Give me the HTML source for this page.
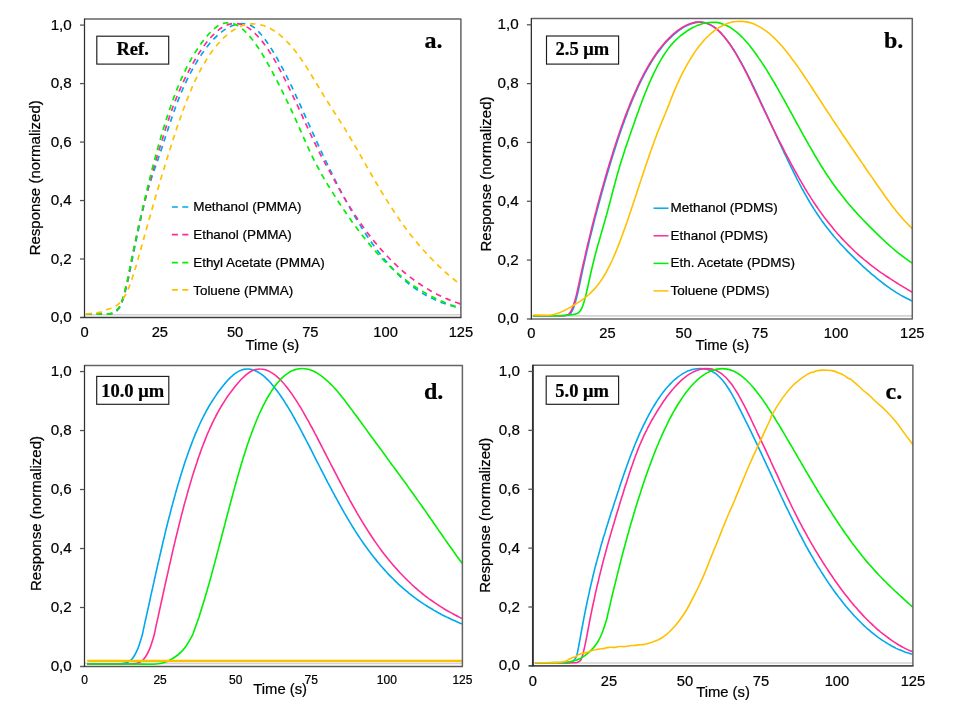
<!DOCTYPE html>
<html><head><meta charset="utf-8"><title>Response curves</title>
<style>html,body{margin:0;padding:0;background:#fff;overflow:hidden;}svg{display:block;filter:blur(0.35px);}text{font-family:"Liberation Sans",sans-serif;fill:#000;stroke:#000;stroke-width:0.22px;}.s{font-family:"Liberation Serif",serif;font-weight:bold;}.c{fill:none;stroke-width:1.6;stroke-linejoin:round;stroke-linecap:butt;}</style></head><body>
<svg width="955" height="713" viewBox="0 0 955 713">
<rect x="0" y="0" width="955" height="713" fill="#fff"/>
<g>
<line x1="84.5" y1="314.8" x2="460.9" y2="314.8" stroke="#d3d3d3" stroke-width="1.6"/>
<clipPath id="cpa"><rect x="84.5" y="18.9" width="377.0" height="298.6"/></clipPath>
<g clip-path="url(#cpa)">
<path class="c" d="M86.0,314.0C88.3,314.0 95.7,314.0 100.0,313.9C104.3,313.8 108.5,314.5 111.6,313.6C114.7,312.7 116.8,311.2 118.8,308.6C120.8,306.0 121.9,302.8 123.5,297.8C125.1,292.8 127.3,282.8 128.3,278.8C129.3,274.8 129.0,275.5 129.3,273.9C129.7,272.2 130.0,270.6 130.3,269.0C130.7,267.3 131.0,265.7 131.3,264.0C131.7,262.4 132.0,260.8 132.3,259.1C132.7,257.5 133.0,255.8 133.3,254.2C133.7,252.6 134.0,250.9 134.3,249.3C134.7,247.6 135.0,246.0 135.3,244.4C135.7,242.8 136.0,241.1 136.3,239.5C136.7,237.9 137.0,236.3 137.4,234.6C137.7,233.0 138.0,231.4 138.4,229.8C138.7,228.1 139.1,226.5 139.4,224.9C139.8,223.3 140.1,221.7 140.5,220.1C140.8,218.5 141.2,216.9 141.5,215.3C141.9,213.6 142.3,212.0 142.6,210.4C143.0,208.8 143.4,207.2 143.8,205.7C144.1,204.1 144.5,202.5 144.9,200.9C145.3,199.3 145.7,197.7 146.1,196.2C146.6,194.6 147.0,193.0 147.4,191.5C147.9,189.9 148.3,188.4 148.8,186.8C149.2,185.2 149.7,183.7 150.2,182.1C150.7,180.6 151.2,179.0 151.7,177.5C152.2,175.9 152.7,174.4 153.3,172.8C153.8,171.3 154.3,169.7 154.9,168.2C155.4,166.6 156.0,165.0 156.5,163.5C157.1,161.9 157.6,160.3 158.2,158.7C158.7,157.1 159.3,155.5 159.8,153.9C160.4,152.3 160.9,150.8 161.4,149.2C162.0,147.6 162.5,146.0 163.0,144.4C163.5,142.8 164.1,141.2 164.6,139.6C165.1,138.0 165.6,136.5 166.1,134.9C166.7,133.3 167.2,131.7 167.7,130.1C168.2,128.6 168.7,127.0 169.3,125.4C169.8,123.8 170.3,122.3 170.8,120.7C171.4,119.1 171.9,117.6 172.4,116.0C173.0,114.4 173.5,112.9 174.1,111.3C174.6,109.8 175.2,108.2 175.7,106.7C176.3,105.1 176.9,103.6 177.4,102.1C178.0,100.6 178.6,99.0 179.2,97.5C179.8,96.0 180.4,94.5 181.1,93.0C181.7,91.5 182.3,90.0 183.0,88.5C183.7,87.0 184.3,85.5 185.0,84.0C185.7,82.6 186.4,81.1 187.1,79.6C187.8,78.1 188.6,76.7 189.3,75.2C190.1,73.8 190.8,72.3 191.6,70.9C192.4,69.5 193.2,68.0 194.0,66.6C194.8,65.2 195.6,63.8 196.5,62.4C197.3,61.0 198.2,59.6 199.0,58.2C199.9,56.8 200.8,55.5 201.7,54.1C202.6,52.8 203.6,51.5 204.5,50.1C205.5,48.8 206.5,47.5 207.5,46.3C208.5,45.0 209.5,43.7 210.6,42.5C211.6,41.3 212.7,40.1 213.8,38.9C215.0,37.7 216.1,36.6 217.3,35.5C218.5,34.4 219.7,33.4 221.0,32.4C222.3,31.4 223.6,30.4 224.9,29.6C226.3,28.7 227.7,27.9 229.1,27.2C230.6,26.4 232.1,25.8 233.6,25.3C235.1,24.7 236.7,24.3 238.3,24.0C239.9,23.7 241.6,23.5 243.2,23.6C244.9,23.6 246.6,23.8 248.2,24.4C249.9,24.9 251.5,25.8 253.0,26.7C254.5,27.7 255.8,29.0 257.1,30.2C258.4,31.4 259.6,32.7 260.7,34.0C261.9,35.3 262.9,36.7 264.0,38.1C265.0,39.4 266.0,40.8 267.0,42.2C268.0,43.6 268.9,45.0 269.9,46.5C270.8,47.9 271.7,49.3 272.6,50.8C273.5,52.2 274.4,53.7 275.2,55.1C276.1,56.6 276.9,58.0 277.8,59.5C278.6,61.0 279.4,62.5 280.2,64.0C281.0,65.4 281.8,66.9 282.6,68.4C283.4,69.9 284.2,71.4 285.0,72.9C285.7,74.4 286.5,75.9 287.2,77.4C288.0,78.9 288.7,80.4 289.5,81.9C290.2,83.5 290.9,85.0 291.7,86.5C292.4,88.0 293.1,89.5 293.8,91.0C294.5,92.6 295.2,94.1 295.9,95.6C296.6,97.1 297.3,98.7 298.0,100.2C298.7,101.7 299.4,103.2 300.1,104.7C300.8,106.3 301.5,107.8 302.2,109.3C302.9,110.8 303.5,112.4 304.2,113.9C304.9,115.4 305.6,116.9 306.3,118.5C306.9,120.0 307.6,121.5 308.3,123.0C309.0,124.5 309.7,126.0 310.4,127.6C311.0,129.1 311.7,130.6 312.4,132.1C313.1,133.6 313.8,135.1 314.5,136.7C315.2,138.2 315.9,139.7 316.6,141.2C317.2,142.7 317.9,144.2 318.6,145.7C319.3,147.2 320.0,148.7 320.7,150.2C321.4,151.7 322.1,153.2 322.8,154.8C323.5,156.3 324.3,157.8 325.0,159.3C325.7,160.8 326.4,162.3 327.1,163.7C327.8,165.2 328.5,166.7 329.3,168.2C330.0,169.7 330.7,171.2 331.4,172.7C332.2,174.2 332.9,175.7 333.7,177.2C334.4,178.6 335.1,180.1 335.9,181.6C336.6,183.1 337.4,184.6 338.1,186.0C338.9,187.5 339.7,189.0 340.4,190.4C341.2,191.9 342.0,193.4 342.7,194.8C343.5,196.3 344.3,197.8 345.1,199.2C345.9,200.7 346.7,202.1 347.5,203.6C348.3,205.0 349.1,206.4 349.9,207.9C350.7,209.3 351.5,210.8 352.3,212.2C353.2,213.6 354.0,215.0 354.9,216.5C355.7,217.9 356.5,219.3 357.4,220.7C358.3,222.1 359.1,223.5 360.0,224.9C360.9,226.3 361.7,227.7 362.6,229.1C363.5,230.5 364.4,231.9 365.3,233.3C366.2,234.7 367.1,236.0 368.1,237.4C369.0,238.8 369.9,240.1 370.9,241.5C371.8,242.8 372.8,244.2 373.7,245.5C374.7,246.9 375.7,248.2 376.7,249.5C377.6,250.8 378.6,252.1 379.7,253.4C380.7,254.7 381.7,256.0 382.7,257.3C383.8,258.6 384.8,259.8 385.9,261.1C386.9,262.4 388.0,263.6 389.1,264.8C390.2,266.1 391.3,267.3 392.4,268.5C393.5,269.7 394.7,270.9 395.8,272.0C397.0,273.2 398.1,274.4 399.3,275.5C400.5,276.6 401.7,277.7 403.0,278.8C404.2,279.9 405.4,281.0 406.7,282.0C408.0,283.1 409.2,284.1 410.5,285.1C411.8,286.1 413.2,287.1 414.5,288.0C415.8,289.0 417.2,289.9 418.6,290.8C420.0,291.7 421.4,292.6 422.8,293.4C424.2,294.3 425.6,295.1 427.1,295.9C428.5,296.7 430.0,297.4 431.5,298.1C432.9,298.9 434.4,299.6 435.9,300.2C437.5,300.9 439.0,301.5 440.5,302.1C442.1,302.7 443.6,303.3 445.2,303.8C446.7,304.4 448.3,304.9 449.9,305.4C451.5,305.9 453.1,306.3 454.7,306.7C456.3,307.2 458.5,307.7 459.5,308.0C460.6,308.2 460.8,308.2 461.0,308.3" stroke="#00A8EC" stroke-dasharray="5.6 4.8" style="stroke-width:1.7"/>
<path class="c" d="M86.0,314.0C88.3,314.0 95.8,314.0 100.0,313.9C104.2,313.8 108.2,314.5 111.3,313.6C114.4,312.7 116.5,311.2 118.5,308.6C120.5,306.0 121.6,302.8 123.2,297.8C124.8,292.8 127.0,282.9 128.0,278.8C129.0,274.7 128.7,275.2 129.0,273.4C129.3,271.7 129.7,269.9 130.0,268.2C130.3,266.4 130.7,264.7 131.0,263.0C131.3,261.3 131.7,259.6 132.0,257.9C132.3,256.3 132.7,254.6 133.0,253.0C133.3,251.3 133.7,249.7 134.0,248.1C134.3,246.5 134.7,244.9 135.0,243.3C135.4,241.6 135.7,240.0 136.0,238.4C136.4,236.8 136.7,235.2 137.1,233.6C137.5,232.0 137.8,230.3 138.2,228.7C138.5,227.1 138.9,225.5 139.3,223.9C139.6,222.3 140.0,220.7 140.4,219.1C140.8,217.5 141.1,215.9 141.5,214.3C141.9,212.7 142.3,211.1 142.7,209.5C143.1,207.8 143.5,206.2 143.9,204.6C144.3,203.0 144.7,201.4 145.1,199.8C145.5,198.3 145.9,196.7 146.3,195.1C146.7,193.5 147.1,191.9 147.6,190.3C148.0,188.7 148.4,187.1 148.8,185.5C149.3,183.9 149.7,182.3 150.2,180.7C150.6,179.1 151.0,177.5 151.5,175.9C151.9,174.3 152.4,172.8 152.8,171.2C153.3,169.6 153.8,168.0 154.2,166.4C154.7,164.8 155.1,163.2 155.6,161.6C156.1,160.0 156.6,158.4 157.0,156.8C157.5,155.2 158.0,153.6 158.4,152.1C158.9,150.5 159.4,148.9 159.9,147.3C160.3,145.7 160.8,144.1 161.3,142.5C161.8,140.9 162.3,139.4 162.8,137.8C163.3,136.2 163.7,134.6 164.2,133.0C164.7,131.5 165.2,129.9 165.7,128.3C166.2,126.7 166.7,125.2 167.3,123.6C167.8,122.0 168.3,120.5 168.8,118.9C169.3,117.3 169.9,115.8 170.4,114.2C170.9,112.7 171.5,111.1 172.0,109.6C172.6,108.0 173.1,106.5 173.7,105.0C174.3,103.4 174.9,101.9 175.4,100.4C176.0,98.8 176.6,97.3 177.2,95.8C177.9,94.3 178.5,92.8 179.1,91.3C179.8,89.8 180.4,88.3 181.1,86.8C181.8,85.3 182.4,83.8 183.1,82.3C183.8,80.9 184.5,79.4 185.2,77.9C186.0,76.4 186.7,75.0 187.4,73.5C188.2,72.1 189.0,70.6 189.7,69.2C190.5,67.7 191.3,66.3 192.1,64.8C192.9,63.4 193.7,62.0 194.5,60.6C195.3,59.2 196.2,57.7 197.0,56.3C197.9,55.0 198.7,53.6 199.6,52.2C200.5,50.8 201.4,49.5 202.4,48.1C203.3,46.8 204.2,45.5 205.2,44.2C206.2,42.9 207.2,41.6 208.2,40.4C209.2,39.1 210.3,37.9 211.4,36.7C212.5,35.5 213.6,34.4 214.8,33.3C215.9,32.2 217.1,31.1 218.4,30.1C219.6,29.1 220.9,28.2 222.3,27.3C223.7,26.5 225.1,25.8 226.6,25.2C228.1,24.6 229.6,24.1 231.2,23.8C232.8,23.5 234.5,23.4 236.1,23.5C237.8,23.6 239.5,23.9 241.1,24.4C242.7,24.9 244.3,25.7 245.9,26.5C247.4,27.3 248.9,28.3 250.3,29.3C251.7,30.4 253.0,31.5 254.3,32.7C255.5,33.9 256.8,35.1 257.9,36.4C259.1,37.6 260.2,39.0 261.3,40.3C262.4,41.6 263.5,43.0 264.5,44.4C265.5,45.8 266.5,47.2 267.4,48.6C268.4,50.0 269.3,51.4 270.2,52.9C271.1,54.3 272.0,55.8 272.9,57.2C273.8,58.7 274.6,60.2 275.5,61.6C276.3,63.1 277.1,64.6 277.9,66.1C278.7,67.6 279.5,69.0 280.3,70.5C281.1,72.0 281.9,73.5 282.7,75.0C283.4,76.5 284.2,78.0 285.0,79.5C285.7,81.0 286.5,82.5 287.2,84.0C287.9,85.5 288.7,87.1 289.4,88.6C290.1,90.1 290.9,91.6 291.6,93.1C292.3,94.6 293.0,96.1 293.7,97.6C294.4,99.2 295.1,100.7 295.8,102.2C296.6,103.7 297.3,105.2 298.0,106.7C298.7,108.3 299.4,109.8 300.1,111.3C300.8,112.8 301.5,114.3 302.2,115.8C302.9,117.4 303.5,118.9 304.2,120.4C304.9,121.9 305.6,123.4 306.3,124.9C307.0,126.4 307.7,127.9 308.4,129.4C309.1,131.0 309.8,132.5 310.5,134.0C311.2,135.5 311.9,137.0 312.6,138.5C313.4,140.0 314.1,141.5 314.8,143.0C315.5,144.4 316.2,145.9 317.0,147.4C317.7,148.9 318.4,150.4 319.2,151.9C319.9,153.3 320.6,154.8 321.4,156.3C322.2,157.7 322.9,159.2 323.7,160.6C324.5,162.1 325.3,163.5 326.1,165.0C326.9,166.4 327.7,167.9 328.5,169.3C329.3,170.8 330.1,172.3 330.9,173.7C331.7,175.2 332.5,176.7 333.3,178.1C334.1,179.6 334.9,181.1 335.7,182.5C336.5,184.0 337.3,185.4 338.1,186.9C338.9,188.3 339.7,189.8 340.5,191.2C341.3,192.6 342.1,194.1 343.0,195.5C343.8,196.9 344.6,198.4 345.5,199.8C346.3,201.2 347.2,202.6 348.0,204.0C348.9,205.4 349.8,206.8 350.6,208.2C351.5,209.6 352.4,211.0 353.3,212.4C354.2,213.8 355.1,215.2 356.0,216.5C356.9,217.9 357.8,219.3 358.8,220.6C359.7,222.0 360.6,223.4 361.6,224.7C362.5,226.1 363.5,227.4 364.5,228.7C365.4,230.1 366.4,231.4 367.4,232.7C368.4,234.0 369.4,235.3 370.4,236.6C371.4,237.9 372.4,239.2 373.5,240.5C374.5,241.8 375.6,243.1 376.6,244.3C377.7,245.6 378.7,246.9 379.8,248.1C380.9,249.4 382.0,250.6 383.1,251.8C384.2,253.0 385.3,254.2 386.5,255.4C387.6,256.6 388.7,257.8 389.9,259.0C391.0,260.2 392.2,261.3 393.4,262.5C394.6,263.6 395.8,264.8 397.0,265.9C398.2,267.0 399.4,268.1 400.6,269.2C401.9,270.3 403.1,271.4 404.4,272.5C405.6,273.5 406.9,274.6 408.2,275.6C409.5,276.6 410.8,277.6 412.1,278.6C413.4,279.6 414.8,280.6 416.1,281.5C417.5,282.5 418.8,283.4 420.2,284.3C421.6,285.3 423.0,286.2 424.4,287.0C425.8,287.9 427.2,288.8 428.6,289.6C430.0,290.4 431.5,291.3 432.9,292.0C434.4,292.8 435.8,293.6 437.3,294.4C438.8,295.1 440.3,295.8 441.7,296.5C443.2,297.2 444.8,297.9 446.3,298.6C447.8,299.2 449.3,299.9 450.9,300.5C452.4,301.1 453.9,301.7 455.5,302.3C457.1,302.9 459.3,303.6 460.2,303.9C461.1,304.3 460.9,304.2 461.0,304.2" stroke="#FF2C94" stroke-dasharray="5.6 4.8" style="stroke-width:1.7"/>
<path class="c" d="M86.0,314.0C88.3,314.0 95.8,314.0 100.0,313.9C104.2,313.8 108.0,314.5 111.0,313.6C114.0,312.7 116.2,311.2 118.2,308.6C120.2,306.0 121.3,302.8 122.9,297.8C124.5,292.8 126.7,282.8 127.7,278.8C128.7,274.8 128.4,275.4 128.7,273.8C129.0,272.1 129.4,270.4 129.7,268.8C130.0,267.1 130.4,265.5 130.7,263.8C131.0,262.2 131.4,260.6 131.7,258.9C132.0,257.3 132.4,255.7 132.7,254.1C133.0,252.4 133.4,250.8 133.7,249.2C134.1,247.6 134.4,245.9 134.7,244.3C135.1,242.7 135.4,241.1 135.8,239.4C136.1,237.8 136.5,236.2 136.8,234.6C137.2,233.0 137.5,231.3 137.9,229.7C138.2,228.1 138.6,226.5 138.9,224.9C139.3,223.2 139.6,221.6 140.0,220.0C140.4,218.4 140.7,216.8 141.1,215.2C141.5,213.5 141.8,211.9 142.2,210.3C142.6,208.7 142.9,207.1 143.3,205.5C143.7,203.8 144.1,202.2 144.4,200.6C144.8,199.0 145.2,197.4 145.6,195.8C146.0,194.2 146.3,192.6 146.7,190.9C147.1,189.3 147.5,187.7 147.9,186.1C148.3,184.5 148.7,182.9 149.1,181.3C149.5,179.7 149.9,178.1 150.3,176.5C150.7,174.9 151.1,173.3 151.5,171.7C151.9,170.1 152.3,168.5 152.7,166.9C153.1,165.3 153.6,163.7 154.0,162.1C154.4,160.5 154.8,158.9 155.3,157.3C155.7,155.7 156.1,154.1 156.6,152.5C157.0,150.9 157.4,149.3 157.9,147.7C158.3,146.1 158.8,144.5 159.2,142.9C159.7,141.4 160.1,139.8 160.6,138.2C161.0,136.6 161.5,135.0 162.0,133.4C162.5,131.9 162.9,130.3 163.4,128.7C163.9,127.1 164.4,125.5 164.9,124.0C165.4,122.4 165.8,120.8 166.3,119.3C166.9,117.7 167.4,116.1 167.9,114.6C168.4,113.0 168.9,111.4 169.4,109.9C170.0,108.3 170.5,106.8 171.0,105.2C171.6,103.7 172.1,102.1 172.7,100.6C173.2,99.0 173.8,97.5 174.4,96.0C175.0,94.4 175.5,92.9 176.1,91.4C176.7,89.8 177.3,88.3 178.0,86.8C178.6,85.3 179.2,83.8 179.8,82.3C180.5,80.8 181.1,79.3 181.8,77.8C182.5,76.3 183.2,74.8 183.8,73.3C184.5,71.9 185.3,70.4 186.0,68.9C186.7,67.5 187.4,66.0 188.2,64.6C189.0,63.1 189.7,61.7 190.5,60.3C191.3,58.9 192.1,57.4 193.0,56.0C193.8,54.6 194.6,53.3 195.5,51.9C196.4,50.5 197.3,49.1 198.2,47.8C199.1,46.4 200.0,45.1 201.0,43.8C201.9,42.5 202.9,41.2 203.9,39.9C204.9,38.6 205.9,37.3 207.0,36.1C208.0,34.9 209.1,33.6 210.2,32.5C211.3,31.3 212.5,30.2 213.7,29.1C214.9,28.1 216.1,27.1 217.4,26.2C218.7,25.4 220.1,24.6 221.6,24.0C223.0,23.4 224.6,23.0 226.2,22.9C227.8,22.7 229.6,22.8 231.2,23.2C232.8,23.5 234.5,24.1 236.1,24.9C237.7,25.6 239.2,26.6 240.6,27.6C242.0,28.7 243.3,29.8 244.6,31.0C245.9,32.2 247.1,33.4 248.3,34.7C249.4,36.0 250.5,37.3 251.6,38.7C252.7,40.0 253.7,41.4 254.8,42.8C255.8,44.2 256.7,45.6 257.7,47.0C258.7,48.4 259.6,49.8 260.5,51.3C261.4,52.7 262.3,54.1 263.2,55.6C264.0,57.1 264.9,58.5 265.7,60.0C266.6,61.4 267.4,62.9 268.2,64.4C269.1,65.9 269.9,67.3 270.7,68.8C271.5,70.3 272.3,71.8 273.1,73.3C273.8,74.8 274.6,76.2 275.4,77.7C276.2,79.2 276.9,80.7 277.7,82.2C278.5,83.7 279.2,85.2 280.0,86.7C280.7,88.2 281.5,89.7 282.2,91.2C283.0,92.7 283.7,94.2 284.4,95.7C285.2,97.2 285.9,98.7 286.6,100.2C287.4,101.7 288.1,103.2 288.8,104.7C289.5,106.3 290.3,107.8 291.0,109.3C291.7,110.8 292.4,112.3 293.1,113.9C293.8,115.4 294.5,116.9 295.2,118.5C295.9,120.0 296.6,121.5 297.2,123.0C297.9,124.6 298.6,126.1 299.3,127.6C300.0,129.2 300.6,130.7 301.3,132.2C302.0,133.8 302.6,135.3 303.3,136.8C304.0,138.3 304.6,139.8 305.3,141.4C306.0,142.9 306.7,144.4 307.4,145.9C308.0,147.4 308.7,148.9 309.4,150.4C310.1,151.9 310.8,153.4 311.5,154.9C312.2,156.3 312.9,157.8 313.7,159.3C314.4,160.8 315.1,162.2 315.9,163.7C316.6,165.1 317.4,166.6 318.2,168.0C319.0,169.5 319.8,170.9 320.6,172.4C321.4,173.8 322.2,175.2 323.0,176.7C323.8,178.1 324.6,179.5 325.5,180.9C326.3,182.3 327.2,183.7 328.0,185.2C328.9,186.6 329.8,188.0 330.6,189.4C331.5,190.8 332.4,192.2 333.3,193.6C334.2,195.0 335.0,196.4 335.9,197.8C336.8,199.2 337.7,200.6 338.6,202.0C339.5,203.4 340.4,204.8 341.4,206.1C342.3,207.5 343.2,208.9 344.1,210.3C345.1,211.6 346.0,213.0 346.9,214.4C347.9,215.7 348.8,217.1 349.8,218.4C350.7,219.8 351.7,221.1 352.6,222.5C353.6,223.8 354.6,225.2 355.6,226.5C356.5,227.8 357.5,229.1 358.5,230.5C359.5,231.8 360.5,233.1 361.5,234.4C362.6,235.7 363.6,237.0 364.6,238.3C365.6,239.6 366.7,240.9 367.7,242.2C368.8,243.4 369.8,244.7 370.9,246.0C371.9,247.2 373.0,248.5 374.1,249.7C375.2,251.0 376.3,252.2 377.4,253.5C378.5,254.7 379.6,255.9 380.7,257.1C381.9,258.3 383.0,259.5 384.1,260.7C385.3,261.9 386.5,263.0 387.6,264.2C388.8,265.4 390.0,266.5 391.2,267.6C392.4,268.8 393.6,269.9 394.8,271.0C396.1,272.1 397.3,273.2 398.6,274.2C399.8,275.3 401.1,276.3 402.4,277.4C403.7,278.4 405.0,279.4 406.3,280.4C407.6,281.4 408.9,282.4 410.2,283.3C411.6,284.3 412.9,285.2 414.3,286.2C415.7,287.1 417.1,288.0 418.5,288.9C419.9,289.8 421.3,290.6 422.7,291.4C424.1,292.3 425.6,293.1 427.0,293.9C428.4,294.7 429.9,295.5 431.4,296.2C432.9,297.0 434.3,297.7 435.8,298.4C437.3,299.1 438.8,299.8 440.3,300.5C441.9,301.2 443.4,301.8 444.9,302.5C446.4,303.1 448.0,303.7 449.5,304.3C451.1,304.9 452.6,305.5 454.2,306.0C455.8,306.6 457.8,307.2 458.9,307.6C460.1,308.0 460.7,308.2 461.0,308.3" stroke="#00F000" stroke-dasharray="5.6 4.8" style="stroke-width:1.7"/>
<path class="c" d="M86.0,314.0C88.6,313.7 98.2,312.8 101.5,312.1C104.8,311.4 104.2,310.6 105.7,310.0C107.2,309.4 108.8,309.1 110.4,308.5C112.0,307.9 113.6,307.4 115.1,306.5C116.7,305.6 118.2,304.5 119.5,303.2C120.9,301.9 122.0,300.4 123.1,298.8C124.2,297.3 125.0,295.7 125.9,294.1C126.7,292.5 127.5,290.8 128.2,289.2C128.9,287.5 129.5,285.9 130.1,284.2C130.8,282.6 131.3,280.9 131.9,279.3C132.4,277.7 133.0,276.0 133.5,274.4C134.0,272.8 134.5,271.1 135.0,269.5C135.5,267.9 136.0,266.3 136.5,264.6C136.9,263.0 137.4,261.4 137.9,259.8C138.3,258.2 138.8,256.5 139.2,254.9C139.7,253.3 140.1,251.7 140.6,250.1C141.0,248.5 141.5,246.9 141.9,245.3C142.4,243.7 142.8,242.1 143.3,240.5C143.7,238.9 144.1,237.2 144.6,235.6C145.0,234.0 145.5,232.4 145.9,230.8C146.4,229.2 146.8,227.6 147.3,226.0C147.7,224.4 148.2,222.8 148.6,221.2C149.1,219.6 149.5,218.0 150.0,216.4C150.5,214.8 150.9,213.2 151.4,211.6C151.8,210.0 152.3,208.4 152.7,206.8C153.2,205.2 153.6,203.6 154.1,202.0C154.6,200.4 155.0,198.8 155.5,197.2C156.0,195.6 156.4,194.1 156.9,192.5C157.3,190.9 157.8,189.3 158.3,187.7C158.7,186.1 159.2,184.5 159.7,182.9C160.2,181.3 160.6,179.7 161.1,178.1C161.6,176.5 162.1,174.9 162.5,173.3C163.0,171.8 163.5,170.2 164.0,168.6C164.5,167.0 164.9,165.4 165.4,163.8C165.9,162.2 166.4,160.6 166.9,159.1C167.4,157.5 167.9,155.9 168.4,154.3C168.9,152.7 169.4,151.1 169.9,149.6C170.3,148.0 170.9,146.4 171.4,144.8C171.9,143.2 172.4,141.7 172.9,140.1C173.4,138.5 173.9,136.9 174.4,135.4C174.9,133.8 175.5,132.2 176.0,130.6C176.5,129.1 177.0,127.5 177.6,125.9C178.1,124.4 178.6,122.8 179.2,121.3C179.7,119.7 180.2,118.1 180.8,116.6C181.3,115.0 181.9,113.5 182.5,111.9C183.0,110.4 183.6,108.8 184.2,107.3C184.7,105.7 185.3,104.2 185.9,102.6C186.5,101.1 187.1,99.6 187.7,98.1C188.3,96.5 188.9,95.0 189.5,93.5C190.1,92.0 190.8,90.5 191.4,89.0C192.0,87.4 192.7,86.0 193.4,84.5C194.0,83.0 194.7,81.5 195.4,80.0C196.1,78.5 196.8,77.1 197.5,75.6C198.3,74.2 199.0,72.7 199.8,71.3C200.5,69.8 201.3,68.4 202.1,67.0C202.9,65.6 203.7,64.2 204.6,62.8C205.4,61.4 206.3,60.0 207.1,58.6C208.0,57.2 208.9,55.9 209.8,54.5C210.8,53.2 211.7,51.9 212.7,50.6C213.6,49.3 214.6,48.0 215.6,46.7C216.7,45.4 217.7,44.2 218.8,43.0C219.9,41.8 220.9,40.6 222.1,39.4C223.2,38.3 224.4,37.1 225.6,36.1C226.8,35.0 228.0,33.9 229.3,32.9C230.6,32.0 231.9,31.0 233.2,30.2C234.6,29.3 236.0,28.5 237.5,27.7C238.9,27.0 240.4,26.4 241.9,25.8C243.5,25.3 245.0,24.8 246.6,24.5C248.2,24.2 249.9,24.0 251.5,23.9C253.2,23.8 254.9,23.9 256.5,24.1C258.2,24.3 259.9,24.6 261.5,25.0C263.1,25.4 264.8,26.0 266.3,26.7C267.9,27.3 269.5,28.1 271.0,28.9C272.5,29.7 273.9,30.6 275.3,31.6C276.7,32.6 278.1,33.6 279.5,34.7C280.8,35.8 282.1,36.9 283.3,38.1C284.6,39.2 285.8,40.4 287.0,41.7C288.2,42.9 289.4,44.1 290.5,45.4C291.6,46.7 292.7,48.0 293.8,49.3C294.9,50.7 295.9,52.0 297.0,53.4C298.0,54.7 299.0,56.1 300.0,57.5C301.0,58.9 301.9,60.3 302.9,61.7C303.8,63.1 304.7,64.5 305.7,65.9C306.6,67.3 307.5,68.7 308.4,70.2C309.3,71.6 310.1,73.0 311.0,74.5C311.9,75.9 312.8,77.3 313.6,78.8C314.5,80.2 315.4,81.6 316.2,83.1C317.1,84.5 317.9,85.9 318.8,87.3C319.6,88.8 320.5,90.2 321.4,91.6C322.2,93.0 323.1,94.5 323.9,95.9C324.8,97.3 325.7,98.7 326.6,100.1C327.4,101.5 328.3,102.9 329.2,104.3C330.1,105.7 331.0,107.1 331.9,108.5C332.8,109.9 333.7,111.3 334.6,112.7C335.5,114.1 336.4,115.5 337.3,116.9C338.2,118.3 339.1,119.7 340.0,121.1C340.9,122.5 341.8,123.9 342.7,125.4C343.6,126.8 344.5,128.2 345.4,129.6C346.2,131.1 347.1,132.5 348.0,133.9C348.8,135.4 349.7,136.8 350.5,138.3C351.4,139.7 352.2,141.2 353.1,142.6C353.9,144.1 354.8,145.5 355.6,147.0C356.4,148.4 357.3,149.9 358.1,151.3C358.9,152.8 359.8,154.2 360.6,155.7C361.4,157.1 362.2,158.6 363.1,160.0C363.9,161.5 364.7,162.9 365.5,164.3C366.4,165.8 367.2,167.2 368.0,168.7C368.8,170.1 369.7,171.6 370.5,173.0C371.3,174.5 372.1,175.9 373.0,177.3C373.8,178.8 374.7,180.2 375.5,181.6C376.3,183.1 377.2,184.5 378.0,185.9C378.9,187.3 379.7,188.8 380.6,190.2C381.4,191.6 382.3,193.0 383.2,194.4C384.0,195.8 384.9,197.3 385.8,198.7C386.6,200.1 387.5,201.5 388.4,202.9C389.3,204.3 390.2,205.7 391.1,207.1C392.0,208.4 392.9,209.8 393.8,211.2C394.7,212.6 395.6,214.0 396.5,215.3C397.5,216.7 398.4,218.1 399.3,219.4C400.3,220.8 401.2,222.1 402.2,223.5C403.2,224.8 404.1,226.1 405.1,227.5C406.1,228.8 407.1,230.1 408.1,231.4C409.1,232.8 410.1,234.1 411.1,235.4C412.1,236.7 413.2,237.9 414.2,239.2C415.2,240.5 416.3,241.8 417.3,243.1C418.4,244.3 419.5,245.6 420.5,246.8C421.6,248.1 422.7,249.3 423.8,250.5C424.9,251.8 426.0,253.0 427.2,254.2C428.3,255.4 429.4,256.6 430.6,257.8C431.7,259.0 432.9,260.2 434.0,261.3C435.2,262.5 436.4,263.7 437.5,264.8C438.7,266.0 439.9,267.1 441.1,268.2C442.3,269.4 443.6,270.5 444.8,271.6C446.0,272.7 447.3,273.8 448.5,274.9C449.8,275.9 451.0,277.0 452.3,278.1C453.6,279.1 454.9,280.2 456.1,281.2C457.4,282.2 459.2,283.6 460.0,284.3C460.9,284.9 460.8,284.9 461.0,285.0" stroke="#FFC000" stroke-dasharray="5.6 4.8" style="stroke-width:1.7"/>
</g>
<path d="M84.50,18.95H460.90V317.50" fill="none" stroke="#646464" stroke-width="1.5" stroke-linejoin="round"/>
<line x1="80.10" y1="317.50" x2="461.50" y2="317.50" stroke="#3c3c3c" stroke-width="1.30"/>
<line x1="84.50" y1="18.45" x2="84.50" y2="318.10" stroke="#303030" stroke-width="1.25"/>
<text x="71.8" y="322.0" font-size="15.2" text-anchor="end">0,0</text>
<line x1="80.0" y1="259.02" x2="84.5" y2="259.02" stroke="#505050" stroke-width="1.25"/>
<text x="71.8" y="263.5" font-size="15.2" text-anchor="end">0,2</text>
<line x1="80.0" y1="200.54" x2="84.5" y2="200.54" stroke="#505050" stroke-width="1.25"/>
<text x="71.8" y="205.0" font-size="15.2" text-anchor="end">0,4</text>
<line x1="80.0" y1="142.06" x2="84.5" y2="142.06" stroke="#505050" stroke-width="1.25"/>
<text x="71.8" y="146.6" font-size="15.2" text-anchor="end">0,6</text>
<line x1="80.0" y1="83.58" x2="84.5" y2="83.58" stroke="#505050" stroke-width="1.25"/>
<text x="71.8" y="88.1" font-size="15.2" text-anchor="end">0,8</text>
<line x1="80.0" y1="25.10" x2="84.5" y2="25.10" stroke="#505050" stroke-width="1.25"/>
<text x="71.8" y="29.6" font-size="15.2" text-anchor="end">1,0</text>
<text x="84.5" y="337.0" font-size="14.7" text-anchor="middle">0</text>
<text x="159.8" y="337.0" font-size="14.7" text-anchor="middle">25</text>
<text x="235.1" y="337.0" font-size="14.7" text-anchor="middle">50</text>
<text x="310.3" y="337.0" font-size="14.7" text-anchor="middle">75</text>
<text x="385.6" y="337.0" font-size="14.7" text-anchor="middle">100</text>
<text x="460.9" y="337.0" font-size="14.7" text-anchor="middle">125</text>
<text x="272.4" y="350.2" font-size="14.8" text-anchor="middle">Time (s)</text>
<text transform="translate(40.0,177.8) rotate(-90)" font-size="15" text-anchor="middle">Response (normalized)</text>
<rect x="96.8" y="36.2" width="71.9" height="27.9" fill="#fff" stroke="#1c1c1c" stroke-width="1.15"/>
<text class="s" x="132.6" y="54.8" font-size="18.5" text-anchor="middle">Ref.</text>
<text class="s" x="424.4" y="48.0" font-size="24">a.</text>
</g>
<g>
<line x1="531.4" y1="315.9" x2="912.3" y2="315.9" stroke="#d3d3d3" stroke-width="1.6"/>
<clipPath id="cpb"><rect x="531.4" y="18.6" width="381.5" height="300.3"/></clipPath>
<g clip-path="url(#cpb)">
<path class="c" d="M533.3,315.7C536.1,315.7 545.3,315.7 550.0,315.7C554.7,315.7 558.5,315.8 561.5,315.7C564.5,315.6 566.7,315.5 568.3,315.0C569.9,314.5 570.3,313.8 571.2,312.5C572.1,311.2 572.7,310.2 573.7,307.4C574.7,304.5 575.9,301.0 577.2,295.4C578.6,289.8 580.9,278.4 581.8,274.0C582.7,269.6 582.5,270.8 582.9,269.1C583.2,267.5 583.6,265.9 583.9,264.3C584.3,262.7 584.6,261.1 585.0,259.5C585.4,257.8 585.7,256.2 586.1,254.6C586.5,253.0 586.8,251.4 587.2,249.8C587.6,248.2 588.0,246.6 588.4,245.0C588.7,243.3 589.1,241.7 589.5,240.1C589.9,238.5 590.3,236.9 590.7,235.3C591.1,233.7 591.5,232.1 591.9,230.5C592.3,228.9 592.7,227.3 593.1,225.7C593.5,224.1 593.9,222.5 594.3,220.9C594.7,219.3 595.1,217.7 595.5,216.1C596.0,214.5 596.4,212.9 596.8,211.3C597.2,209.7 597.7,208.1 598.1,206.5C598.5,204.9 598.9,203.3 599.4,201.7C599.8,200.1 600.2,198.5 600.7,196.9C601.1,195.3 601.6,193.7 602.0,192.1C602.5,190.5 602.9,188.9 603.4,187.3C603.8,185.7 604.3,184.1 604.7,182.5C605.2,180.9 605.7,179.3 606.1,177.8C606.6,176.2 607.1,174.6 607.5,173.0C608.0,171.4 608.5,169.8 608.9,168.2C609.4,166.6 609.9,165.1 610.4,163.5C610.9,161.9 611.3,160.3 611.8,158.7C612.3,157.1 612.8,155.6 613.3,154.0C613.8,152.4 614.3,150.8 614.8,149.2C615.3,147.7 615.8,146.1 616.3,144.5C616.8,142.9 617.3,141.4 617.8,139.8C618.4,138.2 618.9,136.7 619.4,135.1C619.9,133.5 620.5,132.0 621.0,130.4C621.5,128.9 622.1,127.3 622.6,125.7C623.2,124.2 623.7,122.6 624.3,121.1C624.9,119.5 625.4,118.0 626.0,116.4C626.6,114.9 627.1,113.4 627.7,111.8C628.3,110.3 628.9,108.7 629.5,107.2C630.1,105.7 630.7,104.2 631.3,102.6C632.0,101.1 632.6,99.6 633.2,98.1C633.9,96.6 634.5,95.1 635.2,93.6C635.8,92.1 636.5,90.6 637.2,89.1C637.8,87.6 638.5,86.1 639.2,84.6C639.9,83.1 640.7,81.7 641.4,80.2C642.1,78.7 642.8,77.3 643.6,75.8C644.4,74.4 645.1,72.9 645.9,71.5C646.7,70.1 647.5,68.6 648.3,67.2C649.1,65.8 650.0,64.4 650.8,63.0C651.7,61.6 652.5,60.2 653.4,58.9C654.3,57.5 655.2,56.2 656.1,54.8C657.1,53.5 658.0,52.2 659.0,50.9C660.0,49.6 661.0,48.3 662.0,47.0C663.0,45.7 664.0,44.5 665.1,43.3C666.2,42.1 667.3,40.9 668.4,39.7C669.6,38.5 670.7,37.4 671.9,36.3C673.1,35.2 674.3,34.1 675.6,33.1C676.8,32.1 678.1,31.1 679.4,30.1C680.8,29.2 682.1,28.3 683.5,27.4C684.9,26.6 686.3,25.8 687.8,25.2C689.3,24.5 690.8,23.9 692.3,23.4C693.9,23.0 695.5,22.6 697.1,22.4C698.7,22.2 700.4,22.2 702.1,22.4C703.7,22.5 705.4,22.9 707.1,23.4C708.7,24.0 710.3,24.7 711.8,25.6C713.3,26.4 714.8,27.5 716.2,28.5C717.5,29.6 718.8,30.8 720.1,32.1C721.3,33.3 722.5,34.6 723.6,35.9C724.7,37.2 725.8,38.6 726.8,39.9C727.9,41.3 728.9,42.7 729.9,44.1C730.9,45.5 731.8,46.9 732.7,48.3C733.7,49.8 734.6,51.2 735.5,52.7C736.3,54.1 737.2,55.6 738.1,57.0C738.9,58.5 739.7,60.0 740.6,61.5C741.4,62.9 742.2,64.4 743.0,65.9C743.8,67.4 744.6,68.9 745.4,70.4C746.2,71.9 746.9,73.4 747.7,74.9C748.5,76.4 749.2,77.9 750.0,79.4C750.7,80.9 751.5,82.4 752.2,83.9C752.9,85.4 753.7,86.9 754.4,88.4C755.1,89.9 755.8,91.5 756.6,93.0C757.3,94.5 758.0,96.0 758.7,97.5C759.4,99.0 760.1,100.5 760.8,102.1C761.5,103.6 762.2,105.1 762.9,106.6C763.6,108.1 764.3,109.6 765.0,111.2C765.7,112.7 766.4,114.2 767.1,115.7C767.8,117.2 768.5,118.7 769.2,120.3C769.9,121.8 770.6,123.3 771.3,124.8C772.0,126.3 772.7,127.8 773.4,129.3C774.1,130.9 774.8,132.4 775.5,133.9C776.1,135.4 776.8,136.9 777.5,138.4C778.2,139.9 778.9,141.4 779.6,143.0C780.3,144.5 781.0,146.0 781.7,147.5C782.4,149.0 783.1,150.5 783.8,152.0C784.6,153.5 785.3,155.0 786.0,156.5C786.7,158.0 787.4,159.5 788.1,161.0C788.8,162.5 789.6,164.0 790.3,165.5C791.0,167.0 791.7,168.4 792.5,169.9C793.2,171.4 793.9,172.9 794.7,174.4C795.4,175.9 796.2,177.3 796.9,178.8C797.7,180.3 798.4,181.7 799.2,183.2C800.0,184.7 800.7,186.1 801.5,187.6C802.3,189.0 803.1,190.5 803.9,191.9C804.7,193.4 805.5,194.8 806.3,196.2C807.1,197.7 807.9,199.1 808.8,200.5C809.6,201.9 810.5,203.3 811.3,204.7C812.2,206.1 813.1,207.5 813.9,208.9C814.8,210.3 815.7,211.7 816.6,213.0C817.5,214.4 818.4,215.8 819.4,217.1C820.3,218.5 821.3,219.8 822.2,221.2C823.2,222.5 824.1,223.8 825.1,225.2C826.1,226.5 827.1,227.8 828.1,229.1C829.1,230.4 830.1,231.7 831.2,233.0C832.2,234.2 833.3,235.5 834.3,236.8C835.4,238.0 836.5,239.3 837.5,240.5C838.6,241.8 839.7,243.0 840.8,244.2C841.9,245.4 843.1,246.6 844.2,247.8C845.3,249.0 846.5,250.2 847.6,251.4C848.8,252.6 849.9,253.8 851.1,254.9C852.3,256.1 853.5,257.3 854.7,258.4C855.8,259.6 857.0,260.7 858.3,261.9C859.5,263.0 860.7,264.1 861.9,265.3C863.1,266.4 864.3,267.5 865.6,268.6C866.8,269.7 868.0,270.8 869.3,271.9C870.5,273.0 871.8,274.1 873.0,275.2C874.3,276.2 875.6,277.3 876.8,278.3C878.1,279.4 879.4,280.4 880.7,281.4C882.0,282.5 883.3,283.5 884.6,284.5C886.0,285.5 887.3,286.4 888.6,287.4C890.0,288.3 891.3,289.3 892.7,290.2C894.1,291.1 895.5,292.0 896.9,292.9C898.3,293.7 899.7,294.6 901.1,295.4C902.6,296.2 904.0,297.0 905.5,297.7C906.9,298.5 908.8,299.3 909.9,299.9C911.1,300.4 911.9,300.7 912.3,300.9" stroke="#00A8EC"/>
<path class="c" d="M533.3,315.7C536.1,315.7 545.4,315.7 550.0,315.7C554.6,315.7 557.9,315.8 560.8,315.7C563.7,315.6 565.9,315.5 567.5,315.0C569.1,314.5 569.3,313.8 570.2,312.5C571.1,311.2 571.7,310.2 572.7,307.4C573.7,304.5 574.9,301.0 576.3,295.4C577.7,289.8 580.0,278.4 581.0,274.0C582.0,269.6 581.7,270.8 582.1,269.1C582.4,267.5 582.8,265.9 583.2,264.3C583.5,262.7 583.9,261.1 584.3,259.5C584.6,257.8 585.0,256.2 585.4,254.6C585.7,253.0 586.1,251.4 586.5,249.8C586.9,248.2 587.3,246.5 587.6,244.9C588.0,243.3 588.4,241.7 588.8,240.1C589.2,238.5 589.6,236.9 590.0,235.3C590.4,233.7 590.7,232.1 591.1,230.5C591.5,228.8 591.9,227.2 592.3,225.6C592.8,224.0 593.2,222.4 593.6,220.8C594.0,219.2 594.4,217.6 594.8,216.0C595.2,214.4 595.6,212.8 596.1,211.2C596.5,209.6 596.9,208.0 597.3,206.4C597.7,204.8 598.2,203.2 598.6,201.6C599.0,200.0 599.5,198.4 599.9,196.8C600.3,195.2 600.8,193.6 601.2,192.0C601.7,190.4 602.1,188.8 602.6,187.2C603.0,185.6 603.5,184.1 603.9,182.5C604.4,180.9 604.8,179.3 605.3,177.7C605.8,176.1 606.2,174.5 606.7,172.9C607.2,171.3 607.6,169.7 608.1,168.2C608.6,166.6 609.0,165.0 609.5,163.4C610.0,161.8 610.5,160.2 611.0,158.7C611.5,157.1 612.0,155.5 612.5,153.9C612.9,152.3 613.4,150.8 613.9,149.2C614.5,147.6 615.0,146.0 615.5,144.5C616.0,142.9 616.5,141.3 617.0,139.8C617.5,138.2 618.1,136.6 618.6,135.1C619.1,133.5 619.7,131.9 620.2,130.4C620.7,128.8 621.3,127.3 621.8,125.7C622.4,124.2 622.9,122.6 623.5,121.1C624.1,119.5 624.6,118.0 625.2,116.4C625.8,114.9 626.4,113.3 627.0,111.8C627.6,110.3 628.2,108.7 628.8,107.2C629.4,105.7 630.0,104.2 630.6,102.6C631.2,101.1 631.9,99.6 632.5,98.1C633.1,96.6 633.8,95.1 634.5,93.6C635.1,92.1 635.8,90.6 636.5,89.1C637.2,87.6 637.8,86.1 638.5,84.6C639.3,83.1 640.0,81.7 640.7,80.2C641.4,78.7 642.2,77.3 642.9,75.8C643.7,74.4 644.4,72.9 645.2,71.5C646.0,70.1 646.8,68.6 647.6,67.2C648.4,65.8 649.3,64.4 650.1,63.0C651.0,61.6 651.8,60.2 652.7,58.8C653.6,57.5 654.5,56.1 655.4,54.8C656.3,53.4 657.3,52.1 658.2,50.8C659.2,49.5 660.2,48.2 661.2,46.9C662.2,45.6 663.3,44.4 664.3,43.2C665.4,41.9 666.5,40.7 667.6,39.6C668.7,38.4 669.9,37.2 671.1,36.1C672.2,35.0 673.4,33.9 674.7,32.9C675.9,31.9 677.2,30.9 678.5,29.9C679.8,29.0 681.2,28.0 682.6,27.2C684.0,26.4 685.4,25.6 686.9,24.9C688.3,24.2 689.8,23.6 691.4,23.2C692.9,22.7 694.5,22.3 696.2,22.1C697.8,21.9 699.5,21.9 701.1,22.0C702.8,22.2 704.5,22.5 706.1,23.0C707.7,23.5 709.4,24.3 710.9,25.1C712.4,25.9 713.9,26.9 715.3,28.0C716.7,29.0 718.0,30.2 719.2,31.4C720.5,32.6 721.7,33.9 722.8,35.2C724.0,36.5 725.1,37.8 726.1,39.2C727.2,40.5 728.2,41.9 729.2,43.3C730.2,44.7 731.1,46.2 732.1,47.6C733.0,49.0 733.9,50.5 734.8,51.9C735.7,53.4 736.6,54.8 737.4,56.3C738.3,57.8 739.1,59.3 739.9,60.7C740.7,62.2 741.5,63.7 742.3,65.2C743.1,66.7 743.9,68.2 744.7,69.7C745.4,71.2 746.2,72.7 747.0,74.2C747.7,75.7 748.5,77.2 749.2,78.7C749.9,80.2 750.7,81.8 751.4,83.3C752.1,84.8 752.8,86.3 753.6,87.8C754.3,89.3 755.0,90.8 755.7,92.3C756.4,93.8 757.1,95.3 757.9,96.8C758.6,98.4 759.3,99.9 760.0,101.4C760.7,102.9 761.4,104.4 762.1,105.9C762.9,107.4 763.6,108.9 764.3,110.4C765.0,111.9 765.7,113.4 766.5,114.9C767.2,116.4 767.9,117.9 768.6,119.4C769.3,120.9 770.1,122.4 770.8,123.9C771.5,125.3 772.3,126.8 773.0,128.3C773.7,129.8 774.5,131.3 775.2,132.8C775.9,134.3 776.7,135.8 777.4,137.3C778.1,138.8 778.9,140.2 779.6,141.7C780.4,143.2 781.1,144.7 781.9,146.2C782.6,147.6 783.4,149.1 784.2,150.6C784.9,152.1 785.7,153.5 786.4,155.0C787.2,156.5 788.0,157.9 788.8,159.4C789.5,160.9 790.3,162.3 791.1,163.8C791.9,165.3 792.7,166.7 793.5,168.2C794.3,169.6 795.1,171.1 795.9,172.5C796.7,174.0 797.5,175.4 798.3,176.8C799.1,178.3 799.9,179.7 800.8,181.2C801.6,182.6 802.4,184.0 803.3,185.4C804.1,186.9 804.9,188.3 805.8,189.7C806.7,191.1 807.5,192.5 808.4,193.9C809.3,195.3 810.2,196.7 811.0,198.1C811.9,199.5 812.8,200.8 813.7,202.2C814.7,203.6 815.6,205.0 816.5,206.3C817.4,207.7 818.4,209.0 819.3,210.4C820.3,211.7 821.2,213.1 822.2,214.4C823.2,215.7 824.2,217.1 825.2,218.4C826.2,219.7 827.2,221.0 828.2,222.3C829.2,223.6 830.2,224.9 831.3,226.1C832.3,227.4 833.4,228.7 834.4,230.0C835.5,231.2 836.6,232.5 837.6,233.7C838.7,234.9 839.8,236.2 840.9,237.4C842.1,238.6 843.2,239.8 844.3,241.0C845.5,242.2 846.6,243.4 847.8,244.6C848.9,245.7 850.1,246.9 851.3,248.0C852.5,249.2 853.7,250.3 854.9,251.5C856.1,252.6 857.3,253.7 858.5,254.8C859.8,255.9 861.0,257.0 862.3,258.0C863.5,259.1 864.8,260.2 866.1,261.2C867.3,262.3 868.6,263.3 869.9,264.3C871.2,265.4 872.5,266.4 873.9,267.4C875.2,268.4 876.5,269.3 877.9,270.3C879.2,271.3 880.5,272.2 881.9,273.2C883.3,274.1 884.6,275.1 886.0,276.0C887.4,276.9 888.8,277.8 890.1,278.7C891.5,279.6 892.9,280.5 894.3,281.4C895.7,282.3 897.2,283.2 898.6,284.1C900.0,284.9 901.4,285.8 902.8,286.6C904.3,287.5 905.7,288.3 907.1,289.2C908.5,290.0 910.6,291.2 911.4,291.7C912.3,292.2 912.2,292.1 912.3,292.2" stroke="#FF2C94"/>
<path class="c" d="M533.3,315.7C536.1,315.7 544.2,315.8 550.0,315.7C555.8,315.6 563.7,315.4 567.9,315.2C572.1,314.9 573.2,314.6 575.0,314.2C576.8,313.8 577.4,313.7 578.6,312.6C579.8,311.5 581.0,310.3 582.2,307.4C583.4,304.5 584.4,301.0 585.8,295.4C587.2,289.8 589.6,278.4 590.6,274.0C591.6,269.6 591.3,270.8 591.7,269.2C592.1,267.6 592.4,266.0 592.8,264.5C593.2,262.9 593.6,261.3 594.0,259.7C594.4,258.1 594.8,256.5 595.2,254.9C595.7,253.4 596.1,251.8 596.5,250.2C596.9,248.6 597.4,247.0 597.8,245.4C598.3,243.8 598.7,242.3 599.2,240.7C599.6,239.1 600.1,237.5 600.5,235.9C601.0,234.3 601.5,232.7 601.9,231.1C602.4,229.5 602.9,227.9 603.3,226.3C603.8,224.7 604.2,223.1 604.7,221.5C605.2,219.8 605.6,218.2 606.1,216.6C606.5,215.0 607.0,213.3 607.4,211.7C607.9,210.1 608.3,208.5 608.7,206.8C609.2,205.2 609.6,203.6 610.0,202.0C610.4,200.3 610.9,198.7 611.3,197.1C611.7,195.5 612.1,193.9 612.5,192.3C613.0,190.7 613.4,189.1 613.8,187.5C614.2,185.9 614.6,184.3 615.1,182.7C615.5,181.1 615.9,179.5 616.4,177.9C616.8,176.3 617.3,174.8 617.7,173.2C618.2,171.6 618.6,170.0 619.1,168.4C619.5,166.9 620.0,165.3 620.5,163.7C621.0,162.1 621.5,160.6 622.0,159.0C622.5,157.4 623.0,155.9 623.5,154.3C624.0,152.7 624.5,151.2 625.0,149.6C625.5,148.0 626.0,146.5 626.6,144.9C627.1,143.3 627.6,141.8 628.2,140.2C628.7,138.6 629.2,137.1 629.8,135.5C630.3,133.9 630.9,132.4 631.4,130.8C632.0,129.2 632.5,127.7 633.1,126.1C633.6,124.5 634.2,122.9 634.7,121.4C635.3,119.8 635.8,118.2 636.4,116.7C636.9,115.1 637.5,113.6 638.1,112.0C638.6,110.4 639.2,108.9 639.7,107.3C640.3,105.8 640.9,104.2 641.5,102.7C642.0,101.2 642.6,99.6 643.2,98.1C643.8,96.5 644.4,95.0 645.0,93.5C645.6,92.0 646.3,90.4 646.9,88.9C647.5,87.4 648.1,85.9 648.8,84.4C649.4,82.9 650.1,81.4 650.8,79.9C651.4,78.4 652.1,76.9 652.8,75.4C653.5,74.0 654.2,72.5 654.9,71.0C655.7,69.6 656.4,68.1 657.1,66.7C657.9,65.2 658.7,63.8 659.5,62.4C660.3,60.9 661.1,59.5 661.9,58.2C662.7,56.8 663.6,55.4 664.5,54.0C665.4,52.7 666.3,51.4 667.2,50.1C668.2,48.8 669.1,47.5 670.1,46.2C671.2,45.0 672.2,43.8 673.3,42.6C674.4,41.4 675.5,40.3 676.7,39.2C677.9,38.0 679.1,37.0 680.3,35.9C681.6,34.9 682.9,33.9 684.2,33.0C685.5,32.0 686.9,31.1 688.2,30.2C689.6,29.4 691.0,28.5 692.5,27.8C693.9,27.0 695.4,26.3 696.9,25.6C698.4,25.0 699.9,24.4 701.5,23.9C703.0,23.4 704.6,23.0 706.2,22.7C707.8,22.5 709.5,22.3 711.2,22.2C712.8,22.2 714.5,22.2 716.1,22.4C717.8,22.6 719.5,23.0 721.1,23.4C722.7,23.9 724.4,24.5 725.9,25.2C727.5,25.9 729.0,26.7 730.5,27.6C732.0,28.5 733.4,29.5 734.7,30.6C736.1,31.6 737.4,32.7 738.7,33.9C740.0,35.0 741.2,36.3 742.4,37.5C743.6,38.7 744.8,40.0 745.9,41.2C747.0,42.5 748.1,43.8 749.2,45.1C750.3,46.5 751.3,47.8 752.4,49.2C753.4,50.5 754.4,51.9 755.4,53.2C756.4,54.6 757.4,56.0 758.3,57.4C759.3,58.8 760.2,60.2 761.2,61.6C762.1,63.0 763.0,64.4 764.0,65.8C764.9,67.2 765.8,68.7 766.7,70.1C767.5,71.5 768.4,72.9 769.3,74.4C770.2,75.8 771.0,77.3 771.9,78.7C772.8,80.1 773.6,81.6 774.5,83.0C775.3,84.5 776.1,85.9 777.0,87.4C777.8,88.8 778.6,90.3 779.5,91.8C780.3,93.2 781.1,94.7 781.9,96.1C782.8,97.6 783.6,99.1 784.4,100.5C785.2,102.0 786.0,103.4 786.8,104.9C787.6,106.4 788.4,107.8 789.2,109.3C790.0,110.8 790.8,112.2 791.6,113.7C792.4,115.1 793.2,116.6 794.0,118.1C794.8,119.5 795.6,121.0 796.4,122.5C797.2,123.9 798.0,125.4 798.8,126.8C799.6,128.3 800.4,129.8 801.2,131.2C802.0,132.7 802.8,134.1 803.6,135.6C804.5,137.0 805.3,138.5 806.1,139.9C806.9,141.4 807.7,142.8 808.5,144.3C809.3,145.7 810.2,147.2 811.0,148.6C811.8,150.0 812.6,151.5 813.5,152.9C814.3,154.3 815.1,155.8 816.0,157.2C816.8,158.6 817.7,160.0 818.5,161.4C819.4,162.9 820.2,164.3 821.1,165.7C822.0,167.1 822.9,168.5 823.7,169.9C824.6,171.3 825.5,172.6 826.4,174.0C827.3,175.4 828.2,176.8 829.2,178.1C830.1,179.5 831.0,180.9 832.0,182.2C832.9,183.5 833.9,184.9 834.9,186.2C835.8,187.6 836.8,188.9 837.8,190.2C838.8,191.5 839.8,192.8 840.8,194.1C841.8,195.4 842.8,196.7 843.9,198.0C844.9,199.3 845.9,200.6 847.0,201.9C848.0,203.1 849.1,204.4 850.2,205.6C851.3,206.9 852.3,208.1 853.4,209.4C854.5,210.6 855.6,211.8 856.7,213.1C857.9,214.3 859.0,215.5 860.1,216.7C861.2,217.9 862.4,219.1 863.5,220.3C864.7,221.5 865.8,222.7 867.0,223.9C868.1,225.1 869.3,226.3 870.5,227.4C871.7,228.6 872.8,229.8 874.0,230.9C875.2,232.1 876.4,233.3 877.6,234.4C878.8,235.6 880.0,236.7 881.2,237.8C882.4,239.0 883.6,240.1 884.8,241.2C886.0,242.4 887.3,243.5 888.5,244.6C889.7,245.7 891.0,246.8 892.2,247.9C893.5,248.9 894.7,250.0 896.0,251.1C897.3,252.1 898.5,253.2 899.8,254.2C901.1,255.2 902.4,256.2 903.8,257.2C905.1,258.2 906.4,259.1 907.8,260.1C909.2,261.1 911.5,262.6 912.3,263.1" stroke="#00F000"/>
<path class="c" d="M533.3,315.0C535.9,315.0 545.4,315.3 548.8,315.2C552.2,315.1 552.2,314.9 553.8,314.5C555.4,314.1 557.1,313.6 558.7,313.0C560.3,312.4 561.8,311.7 563.3,310.9C564.9,310.2 566.4,309.4 567.8,308.6C569.3,307.8 570.8,306.9 572.2,306.1C573.6,305.2 575.1,304.4 576.5,303.5C577.9,302.6 579.4,301.7 580.8,300.8C582.2,299.8 583.6,298.8 584.9,297.8C586.3,296.7 587.6,295.6 588.9,294.5C590.2,293.3 591.4,292.1 592.6,290.9C593.8,289.7 595.0,288.4 596.1,287.0C597.2,285.7 598.3,284.3 599.3,283.0C600.3,281.6 601.3,280.1 602.3,278.7C603.2,277.2 604.1,275.7 605.0,274.3C605.9,272.8 606.7,271.3 607.5,269.7C608.3,268.2 609.1,266.7 609.9,265.1C610.6,263.6 611.4,262.0 612.1,260.5C612.8,258.9 613.5,257.3 614.1,255.8C614.8,254.2 615.5,252.6 616.1,251.1C616.8,249.5 617.4,247.9 618.0,246.4C618.7,244.8 619.3,243.2 619.9,241.6C620.5,240.0 621.1,238.5 621.6,236.9C622.2,235.3 622.8,233.7 623.4,232.1C624.0,230.5 624.5,229.0 625.1,227.4C625.7,225.8 626.2,224.2 626.8,222.6C627.3,221.0 627.9,219.5 628.4,217.9C628.9,216.3 629.5,214.7 630.0,213.1C630.6,211.5 631.1,209.9 631.6,208.3C632.2,206.8 632.7,205.2 633.2,203.6C633.7,202.0 634.3,200.4 634.8,198.8C635.3,197.2 635.8,195.7 636.4,194.1C636.9,192.5 637.4,190.9 637.9,189.3C638.5,187.7 639.0,186.2 639.5,184.6C640.0,183.0 640.5,181.4 641.1,179.8C641.6,178.2 642.1,176.7 642.6,175.1C643.2,173.5 643.7,171.9 644.2,170.4C644.7,168.8 645.3,167.2 645.8,165.6C646.3,164.1 646.9,162.5 647.4,160.9C647.9,159.4 648.5,157.8 649.0,156.2C649.5,154.7 650.1,153.1 650.6,151.5C651.2,150.0 651.7,148.4 652.3,146.9C652.8,145.3 653.4,143.7 654.0,142.2C654.5,140.6 655.1,139.1 655.7,137.5C656.3,136.0 656.8,134.5 657.4,132.9C658.0,131.4 658.6,129.9 659.2,128.3C659.8,126.8 660.4,125.3 661.1,123.8C661.7,122.2 662.3,120.7 663.0,119.2C663.6,117.6 664.2,116.1 664.9,114.6C665.5,113.0 666.2,111.5 666.8,109.9C667.4,108.3 668.1,106.7 668.7,105.1C669.3,103.6 669.9,102.0 670.5,100.5C671.1,98.9 671.7,97.4 672.3,95.9C672.9,94.4 673.5,92.9 674.1,91.4C674.8,89.8 675.4,88.3 676.1,86.8C676.7,85.3 677.4,83.8 678.1,82.4C678.8,80.9 679.5,79.4 680.2,77.9C680.9,76.4 681.6,75.0 682.3,73.5C683.1,72.1 683.8,70.6 684.6,69.2C685.3,67.7 686.1,66.3 686.9,64.9C687.7,63.4 688.5,62.0 689.4,60.6C690.2,59.2 691.0,57.8 691.9,56.5C692.8,55.1 693.7,53.7 694.6,52.4C695.5,51.1 696.5,49.7 697.4,48.4C698.4,47.1 699.4,45.8 700.4,44.6C701.4,43.3 702.5,42.1 703.5,40.9C704.6,39.7 705.7,38.5 706.9,37.3C708.0,36.2 709.2,35.1 710.4,34.0C711.6,32.9 712.9,31.9 714.1,30.9C715.4,29.9 716.7,29.0 718.1,28.1C719.5,27.3 720.9,26.4 722.3,25.7C723.8,25.0 725.3,24.3 726.8,23.7C728.3,23.2 729.9,22.7 731.5,22.3C733.0,21.9 734.7,21.6 736.3,21.5C738.0,21.3 739.6,21.3 741.3,21.3C743.0,21.4 744.6,21.6 746.3,21.9C747.9,22.2 749.6,22.6 751.2,23.1C752.8,23.7 754.4,24.3 756.0,25.0C757.5,25.7 759.0,26.5 760.5,27.4C762.0,28.2 763.4,29.2 764.8,30.1C766.2,31.1 767.6,32.2 768.9,33.2C770.3,34.3 771.5,35.5 772.8,36.6C774.1,37.8 775.3,39.0 776.5,40.2C777.7,41.4 778.8,42.6 780.0,43.9C781.1,45.2 782.2,46.4 783.3,47.7C784.4,49.0 785.5,50.3 786.6,51.7C787.6,53.0 788.7,54.3 789.7,55.6C790.7,57.0 791.7,58.3 792.7,59.7C793.8,61.0 794.7,62.4 795.7,63.8C796.7,65.1 797.7,66.5 798.6,67.9C799.6,69.3 800.6,70.6 801.5,72.0C802.5,73.4 803.4,74.8 804.3,76.2C805.3,77.6 806.2,79.0 807.1,80.4C808.0,81.8 809.0,83.2 809.9,84.6C810.8,86.0 811.7,87.4 812.6,88.8C813.5,90.2 814.4,91.6 815.3,93.0C816.3,94.4 817.2,95.8 818.1,97.2C819.0,98.6 819.9,100.0 820.8,101.4C821.7,102.8 822.6,104.2 823.5,105.6C824.4,106.9 825.3,108.3 826.2,109.7C827.1,111.1 828.0,112.5 829.0,113.9C829.9,115.3 830.8,116.7 831.7,118.1C832.6,119.5 833.5,120.8 834.5,122.2C835.4,123.6 836.3,125.0 837.2,126.4C838.2,127.8 839.1,129.1 840.0,130.5C840.9,131.9 841.9,133.3 842.8,134.7C843.7,136.1 844.7,137.4 845.6,138.8C846.5,140.2 847.5,141.6 848.4,142.9C849.3,144.3 850.3,145.7 851.2,147.1C852.1,148.5 853.1,149.8 854.0,151.2C855.0,152.6 855.9,154.0 856.8,155.3C857.8,156.7 858.7,158.1 859.7,159.5C860.6,160.8 861.5,162.2 862.5,163.6C863.4,164.9 864.4,166.3 865.3,167.7C866.2,169.1 867.2,170.4 868.1,171.8C869.1,173.2 870.0,174.6 871.0,175.9C871.9,177.3 872.8,178.7 873.8,180.1C874.7,181.4 875.7,182.8 876.6,184.2C877.6,185.5 878.5,186.9 879.5,188.3C880.4,189.6 881.4,191.0 882.3,192.3C883.3,193.7 884.3,195.0 885.2,196.4C886.2,197.7 887.2,199.1 888.2,200.4C889.1,201.7 890.1,203.1 891.1,204.4C892.1,205.7 893.1,207.0 894.1,208.3C895.1,209.6 896.2,210.9 897.2,212.2C898.2,213.4 899.3,214.7 900.4,216.0C901.4,217.2 902.5,218.5 903.6,219.7C904.7,220.9 905.8,222.1 906.9,223.3C908.0,224.5 909.5,225.9 910.4,226.8C911.3,227.7 912.0,228.3 912.3,228.6" stroke="#FFC000"/>
</g>
<path d="M531.35,18.60H912.30V318.90" fill="none" stroke="#646464" stroke-width="1.5" stroke-linejoin="round"/>
<line x1="526.95" y1="318.90" x2="912.90" y2="318.90" stroke="#68686c" stroke-width="1.50"/>
<line x1="531.35" y1="18.10" x2="531.35" y2="319.50" stroke="#303030" stroke-width="1.30"/>
<text x="518.6" y="323.4" font-size="15.2" text-anchor="end">0,0</text>
<line x1="526.9" y1="260.08" x2="531.4" y2="260.08" stroke="#505050" stroke-width="1.25"/>
<text x="518.6" y="264.6" font-size="15.2" text-anchor="end">0,2</text>
<line x1="526.9" y1="201.26" x2="531.4" y2="201.26" stroke="#505050" stroke-width="1.25"/>
<text x="518.6" y="205.8" font-size="15.2" text-anchor="end">0,4</text>
<line x1="526.9" y1="142.44" x2="531.4" y2="142.44" stroke="#505050" stroke-width="1.25"/>
<text x="518.6" y="146.9" font-size="15.2" text-anchor="end">0,6</text>
<line x1="526.9" y1="83.62" x2="531.4" y2="83.62" stroke="#505050" stroke-width="1.25"/>
<text x="518.6" y="88.1" font-size="15.2" text-anchor="end">0,8</text>
<line x1="526.9" y1="24.80" x2="531.4" y2="24.80" stroke="#505050" stroke-width="1.25"/>
<text x="518.6" y="29.3" font-size="15.2" text-anchor="end">1,0</text>
<text x="531.4" y="338.0" font-size="14.7" text-anchor="middle">0</text>
<text x="607.5" y="338.0" font-size="14.7" text-anchor="middle">25</text>
<text x="683.7" y="338.0" font-size="14.7" text-anchor="middle">50</text>
<text x="759.9" y="338.0" font-size="14.7" text-anchor="middle">75</text>
<text x="836.1" y="338.0" font-size="14.7" text-anchor="middle">100</text>
<text x="912.3" y="338.0" font-size="14.7" text-anchor="middle">125</text>
<text x="722.3" y="349.5" font-size="14.8" text-anchor="middle">Time (s)</text>
<text transform="translate(490.6,174.0) rotate(-90)" font-size="15" text-anchor="middle">Response (normalized)</text>
<rect x="546.5" y="36.0" width="72.1" height="28.1" fill="#fff" stroke="#1c1c1c" stroke-width="1.15"/>
<text class="s" x="582.4" y="54.6" font-size="18.5" text-anchor="middle">2.5 μm</text>
<text class="s" x="884.0" y="48.3" font-size="24">b.</text>
</g>
<g>
<line x1="84.5" y1="663.4" x2="462.4" y2="663.4" stroke="#d3d3d3" stroke-width="1.6"/>
<clipPath id="cpd"><rect x="84.5" y="365.5" width="378.5" height="301.0"/></clipPath>
<g clip-path="url(#cpd)">
<path class="c" d="M87.2,664.0C90.2,664.0 99.0,664.1 105.0,664.0C111.0,663.9 118.5,664.3 122.9,663.6C127.3,662.9 128.9,662.0 131.3,659.8C133.7,657.6 135.4,654.2 137.2,650.2C139.0,646.2 141.0,639.1 142.0,635.9C143.0,632.7 142.7,632.6 143.1,631.0C143.4,629.4 143.8,627.8 144.2,626.1C144.5,624.5 144.9,622.9 145.2,621.2C145.6,619.6 146.0,618.0 146.3,616.3C146.7,614.7 147.0,613.1 147.4,611.5C147.8,609.8 148.1,608.2 148.5,606.6C148.8,605.0 149.2,603.3 149.6,601.7C149.9,600.1 150.3,598.4 150.6,596.8C151.0,595.2 151.3,593.6 151.7,591.9C152.1,590.3 152.4,588.7 152.8,587.1C153.1,585.4 153.5,583.8 153.9,582.2C154.2,580.6 154.6,578.9 155.0,577.3C155.3,575.7 155.7,574.1 156.0,572.5C156.4,570.8 156.8,569.2 157.1,567.6C157.5,566.0 157.9,564.4 158.2,562.7C158.6,561.1 159.0,559.5 159.4,557.9C159.7,556.3 160.1,554.6 160.5,553.0C160.8,551.4 161.2,549.8 161.6,548.2C162.0,546.6 162.4,544.9 162.7,543.3C163.1,541.7 163.5,540.1 163.9,538.5C164.3,536.9 164.7,535.3 165.0,533.7C165.4,532.0 165.8,530.4 166.2,528.8C166.6,527.2 167.0,525.6 167.4,524.0C167.8,522.4 168.2,520.8 168.6,519.2C169.0,517.6 169.4,516.0 169.9,514.4C170.3,512.8 170.7,511.2 171.1,509.6C171.5,508.0 171.9,506.4 172.4,504.8C172.8,503.2 173.2,501.6 173.7,500.0C174.1,498.4 174.5,496.8 175.0,495.3C175.4,493.7 175.9,492.1 176.3,490.5C176.8,488.9 177.2,487.3 177.7,485.7C178.2,484.2 178.6,482.6 179.1,481.0C179.6,479.4 180.0,477.8 180.5,476.3C181.0,474.7 181.5,473.1 182.0,471.5C182.5,470.0 183.0,468.4 183.5,466.8C184.0,465.3 184.5,463.7 185.0,462.1C185.5,460.6 186.1,459.0 186.6,457.5C187.1,455.9 187.7,454.4 188.2,452.8C188.8,451.3 189.3,449.7 189.9,448.2C190.5,446.6 191.0,445.1 191.6,443.6C192.2,442.0 192.8,440.5 193.4,439.0C194.0,437.5 194.6,436.0 195.2,434.4C195.9,432.9 196.5,431.4 197.2,429.9C197.8,428.4 198.5,426.9 199.1,425.5C199.8,424.0 200.5,422.5 201.2,421.0C201.9,419.6 202.6,418.1 203.4,416.6C204.1,415.2 204.9,413.7 205.6,412.3C206.4,410.9 207.2,409.4 208.0,408.0C208.8,406.6 209.6,405.2 210.5,403.8C211.3,402.4 212.2,401.0 213.1,399.7C214.0,398.3 214.9,396.9 215.8,395.6C216.7,394.2 217.6,392.9 218.6,391.6C219.6,390.3 220.6,389.0 221.6,387.7C222.6,386.4 223.6,385.1 224.6,383.9C225.7,382.6 226.7,381.4 227.8,380.2C228.9,379.0 230.1,377.9 231.2,376.8C232.4,375.7 233.6,374.6 234.9,373.7C236.1,372.7 237.5,371.8 238.9,371.1C240.3,370.4 241.8,369.8 243.3,369.4C244.9,369.1 246.5,368.9 248.2,369.0C249.8,369.1 251.5,369.4 253.2,369.9C254.8,370.4 256.4,371.2 257.9,372.0C259.4,372.9 260.9,373.9 262.3,374.9C263.7,376.0 265.0,377.2 266.2,378.3C267.5,379.5 268.7,380.8 269.9,382.0C271.0,383.3 272.2,384.6 273.3,385.9C274.4,387.2 275.4,388.6 276.4,390.0C277.5,391.3 278.5,392.7 279.5,394.1C280.4,395.5 281.4,396.9 282.3,398.3C283.3,399.7 284.2,401.2 285.1,402.6C286.0,404.0 286.9,405.5 287.8,406.9C288.7,408.3 289.5,409.8 290.4,411.2C291.2,412.7 292.1,414.2 292.9,415.6C293.7,417.1 294.6,418.6 295.4,420.0C296.2,421.5 297.0,423.0 297.8,424.4C298.6,425.9 299.4,427.4 300.2,428.9C301.0,430.4 301.8,431.8 302.6,433.3C303.3,434.8 304.1,436.3 304.9,437.8C305.7,439.3 306.4,440.7 307.2,442.2C308.0,443.7 308.7,445.2 309.5,446.7C310.2,448.2 311.0,449.7 311.8,451.2C312.5,452.6 313.3,454.1 314.0,455.6C314.8,457.1 315.5,458.6 316.3,460.1C317.1,461.6 317.8,463.0 318.6,464.5C319.3,466.0 320.1,467.5 320.8,469.0C321.6,470.4 322.3,471.9 323.1,473.4C323.9,474.9 324.6,476.4 325.4,477.8C326.2,479.3 326.9,480.8 327.7,482.3C328.5,483.7 329.2,485.2 330.0,486.7C330.8,488.1 331.6,489.6 332.3,491.1C333.1,492.5 333.9,494.0 334.7,495.5C335.5,496.9 336.3,498.4 337.1,499.8C337.9,501.3 338.7,502.7 339.5,504.2C340.3,505.6 341.1,507.1 341.9,508.5C342.7,510.0 343.5,511.4 344.3,512.9C345.2,514.3 346.0,515.7 346.8,517.1C347.7,518.6 348.5,520.0 349.3,521.4C350.2,522.8 351.1,524.2 351.9,525.6C352.8,527.1 353.7,528.5 354.5,529.9C355.4,531.2 356.3,532.6 357.2,534.0C358.1,535.4 359.0,536.8 359.9,538.1C360.8,539.5 361.8,540.9 362.7,542.2C363.7,543.6 364.6,544.9 365.6,546.3C366.5,547.6 367.5,548.9 368.5,550.3C369.5,551.6 370.5,552.9 371.5,554.2C372.5,555.5 373.5,556.8 374.5,558.1C375.5,559.4 376.6,560.7 377.6,561.9C378.7,563.2 379.7,564.5 380.8,565.7C381.9,567.0 383.0,568.2 384.1,569.4C385.2,570.6 386.3,571.9 387.4,573.1C388.5,574.3 389.7,575.5 390.8,576.6C392.0,577.8 393.1,579.0 394.3,580.1C395.5,581.3 396.7,582.4 397.9,583.6C399.1,584.7 400.3,585.8 401.6,586.9C402.8,588.0 404.0,589.1 405.3,590.1C406.6,591.2 407.8,592.2 409.1,593.3C410.4,594.3 411.7,595.3 413.0,596.3C414.3,597.3 415.6,598.3 417.0,599.3C418.3,600.3 419.7,601.2 421.0,602.1C422.4,603.1 423.8,604.0 425.2,604.9C426.5,605.8 427.9,606.7 429.3,607.5C430.8,608.4 432.2,609.2 433.6,610.1C435.0,610.9 436.5,611.7 437.9,612.5C439.4,613.3 440.8,614.1 442.3,614.9C443.8,615.6 445.3,616.4 446.8,617.1C448.2,617.8 449.7,618.5 451.2,619.3C452.7,620.0 454.3,620.6 455.8,621.3C457.3,622.0 459.3,622.9 460.3,623.3C461.4,623.7 461.7,623.9 462.0,624.0" stroke="#00A8EC"/>
<path class="c" d="M87.2,664.0C92.7,664.0 111.9,664.1 120.0,664.0C128.1,663.9 132.1,664.3 136.0,663.6C139.9,662.9 141.0,662.0 143.2,659.8C145.4,657.6 147.3,654.2 149.1,650.2C150.9,646.2 152.9,639.1 153.9,635.9C154.9,632.7 154.6,632.6 155.0,631.0C155.3,629.4 155.7,627.8 156.0,626.1C156.4,624.5 156.8,622.9 157.1,621.2C157.5,619.6 157.8,618.0 158.2,616.4C158.5,614.7 158.9,613.1 159.3,611.5C159.6,609.8 160.0,608.2 160.3,606.6C160.7,605.0 161.0,603.3 161.4,601.7C161.8,600.1 162.1,598.5 162.5,596.8C162.8,595.2 163.2,593.6 163.5,592.0C163.9,590.3 164.3,588.7 164.6,587.1C165.0,585.5 165.3,583.8 165.7,582.2C166.1,580.6 166.4,579.0 166.8,577.3C167.2,575.7 167.5,574.1 167.9,572.5C168.2,570.9 168.6,569.2 169.0,567.6C169.3,566.0 169.7,564.4 170.1,562.7C170.5,561.1 170.8,559.5 171.2,557.9C171.6,556.3 171.9,554.7 172.3,553.0C172.7,551.4 173.1,549.8 173.4,548.2C173.8,546.6 174.2,545.0 174.6,543.4C175.0,541.7 175.3,540.1 175.7,538.5C176.1,536.9 176.5,535.3 176.9,533.7C177.3,532.1 177.7,530.5 178.1,528.9C178.5,527.3 178.9,525.6 179.3,524.0C179.7,522.4 180.1,520.8 180.5,519.2C180.9,517.6 181.3,516.0 181.7,514.4C182.1,512.8 182.6,511.2 183.0,509.6C183.4,508.0 183.8,506.4 184.2,504.8C184.7,503.2 185.1,501.7 185.5,500.1C186.0,498.5 186.4,496.9 186.9,495.3C187.3,493.7 187.8,492.1 188.2,490.5C188.7,488.9 189.1,487.4 189.6,485.8C190.1,484.2 190.5,482.6 191.0,481.0C191.5,479.5 191.9,477.9 192.4,476.3C192.9,474.7 193.4,473.2 193.9,471.6C194.4,470.0 194.9,468.4 195.4,466.9C195.9,465.3 196.4,463.8 197.0,462.2C197.5,460.6 198.0,459.1 198.5,457.5C199.1,456.0 199.6,454.4 200.2,452.9C200.7,451.3 201.3,449.8 201.8,448.3C202.4,446.7 203.0,445.2 203.6,443.6C204.2,442.1 204.8,440.6 205.4,439.1C206.0,437.6 206.6,436.0 207.2,434.5C207.9,433.0 208.5,431.5 209.2,430.0C209.8,428.5 210.5,427.1 211.2,425.6C211.9,424.1 212.6,422.6 213.3,421.2C214.0,419.7 214.7,418.2 215.5,416.8C216.2,415.3 217.0,413.9 217.8,412.5C218.5,411.0 219.3,409.6 220.2,408.2C221.0,406.8 221.8,405.4 222.7,404.0C223.5,402.6 224.4,401.3 225.3,399.9C226.2,398.5 227.1,397.2 228.0,395.8C229.0,394.5 229.9,393.2 230.9,391.9C231.9,390.6 232.9,389.3 233.9,388.0C234.9,386.7 235.9,385.4 237.0,384.2C238.0,382.9 239.1,381.7 240.2,380.5C241.3,379.3 242.4,378.1 243.6,377.1C244.8,376.0 246.0,374.9 247.2,373.9C248.5,373.0 249.8,372.0 251.2,371.3C252.6,370.6 254.0,369.9 255.6,369.5C257.1,369.2 258.8,368.9 260.4,369.0C262.1,369.0 263.8,369.3 265.4,369.8C267.0,370.3 268.7,371.0 270.2,371.9C271.7,372.7 273.2,373.7 274.6,374.7C276.0,375.8 277.3,376.9 278.6,378.1C279.8,379.3 281.0,380.6 282.2,381.8C283.4,383.1 284.5,384.4 285.6,385.7C286.7,387.1 287.7,388.4 288.8,389.8C289.8,391.1 290.8,392.5 291.8,393.9C292.8,395.3 293.7,396.7 294.6,398.1C295.6,399.6 296.5,401.0 297.4,402.4C298.3,403.8 299.2,405.3 300.1,406.7C300.9,408.2 301.8,409.6 302.7,411.1C303.5,412.5 304.3,414.0 305.2,415.5C306.0,416.9 306.8,418.4 307.7,419.9C308.5,421.3 309.3,422.8 310.1,424.3C310.9,425.8 311.7,427.2 312.5,428.7C313.3,430.2 314.0,431.7 314.8,433.2C315.6,434.6 316.4,436.1 317.2,437.6C317.9,439.1 318.7,440.6 319.5,442.1C320.2,443.5 321.0,445.0 321.8,446.5C322.5,448.0 323.3,449.5 324.0,451.0C324.8,452.4 325.6,453.9 326.3,455.4C327.1,456.9 327.8,458.4 328.6,459.9C329.4,461.3 330.1,462.8 330.9,464.3C331.7,465.8 332.4,467.3 333.2,468.7C333.9,470.2 334.7,471.7 335.5,473.2C336.2,474.6 337.0,476.1 337.8,477.6C338.6,479.1 339.3,480.5 340.1,482.0C340.9,483.5 341.7,484.9 342.4,486.4C343.2,487.9 344.0,489.3 344.8,490.8C345.6,492.3 346.3,493.7 347.1,495.2C347.9,496.6 348.7,498.1 349.5,499.6C350.3,501.0 351.1,502.5 351.9,503.9C352.7,505.4 353.6,506.8 354.4,508.2C355.2,509.7 356.0,511.1 356.8,512.6C357.7,514.0 358.5,515.4 359.3,516.8C360.2,518.3 361.0,519.7 361.9,521.1C362.7,522.5 363.6,523.9 364.5,525.3C365.3,526.7 366.2,528.1 367.1,529.5C368.0,530.9 368.9,532.3 369.8,533.7C370.7,535.1 371.6,536.4 372.5,537.8C373.4,539.2 374.3,540.5 375.3,541.9C376.2,543.2 377.2,544.6 378.1,545.9C379.1,547.3 380.1,548.6 381.1,549.9C382.1,551.2 383.0,552.6 384.1,553.9C385.1,555.2 386.1,556.5 387.1,557.8C388.1,559.0 389.2,560.3 390.2,561.6C391.3,562.9 392.3,564.1 393.4,565.4C394.5,566.6 395.6,567.9 396.7,569.1C397.8,570.3 398.9,571.5 400.0,572.7C401.1,573.9 402.3,575.1 403.4,576.3C404.6,577.5 405.7,578.7 406.9,579.8C408.1,581.0 409.3,582.1 410.5,583.2C411.7,584.4 412.9,585.5 414.1,586.6C415.4,587.7 416.6,588.8 417.8,589.8C419.1,590.9 420.4,592.0 421.6,593.0C422.9,594.0 424.2,595.1 425.5,596.1C426.8,597.1 428.2,598.1 429.5,599.1C430.8,600.0 432.2,601.0 433.5,601.9C434.9,602.9 436.2,603.8 437.6,604.7C439.0,605.6 440.4,606.5 441.8,607.4C443.2,608.3 444.6,609.1 446.0,610.0C447.5,610.8 448.9,611.6 450.3,612.4C451.8,613.3 453.2,614.0 454.7,614.8C456.2,615.6 457.9,616.5 459.1,617.1C460.3,617.7 461.5,618.3 462.0,618.5" stroke="#FF2C94"/>
<path class="c" d="M87.2,664.0C94.3,664.0 118.5,664.0 130.0,664.0C141.5,664.0 149.9,664.5 156.3,664.0C162.7,663.5 164.6,662.4 168.2,660.9C171.8,659.4 175.0,657.2 177.8,655.0C180.6,652.8 182.5,651.0 184.9,647.8C187.3,644.6 190.6,638.7 192.1,635.9C193.6,633.1 193.4,632.7 194.0,631.1C194.6,629.5 195.2,627.9 195.7,626.3C196.3,624.7 196.9,623.1 197.4,621.5C198.0,619.9 198.5,618.3 199.1,616.7C199.6,615.1 200.1,613.5 200.6,611.8C201.1,610.2 201.6,608.6 202.1,607.0C202.6,605.4 203.1,603.8 203.6,602.2C204.1,600.6 204.6,598.9 205.1,597.3C205.6,595.7 206.0,594.1 206.5,592.5C207.0,590.9 207.4,589.3 207.9,587.6C208.4,586.0 208.8,584.4 209.3,582.8C209.7,581.2 210.2,579.6 210.6,577.9C211.1,576.3 211.5,574.7 211.9,573.1C212.4,571.5 212.8,569.9 213.3,568.3C213.7,566.6 214.1,565.0 214.6,563.4C215.0,561.8 215.4,560.2 215.9,558.6C216.3,556.9 216.7,555.3 217.1,553.7C217.6,552.1 218.0,550.5 218.4,548.9C218.8,547.2 219.3,545.6 219.7,544.0C220.1,542.4 220.5,540.8 221.0,539.2C221.4,537.6 221.8,535.9 222.2,534.3C222.7,532.7 223.1,531.1 223.5,529.5C223.9,527.9 224.3,526.3 224.8,524.7C225.2,523.0 225.6,521.4 226.0,519.8C226.4,518.2 226.9,516.6 227.3,515.0C227.7,513.4 228.1,511.8 228.6,510.2C229.0,508.6 229.4,507.0 229.8,505.4C230.3,503.7 230.7,502.1 231.1,500.5C231.6,498.9 232.0,497.3 232.4,495.7C232.9,494.1 233.3,492.5 233.7,490.9C234.2,489.3 234.6,487.7 235.0,486.1C235.5,484.5 235.9,482.9 236.4,481.3C236.8,479.8 237.3,478.2 237.7,476.6C238.2,475.0 238.6,473.4 239.1,471.8C239.5,470.2 240.0,468.6 240.5,467.0C240.9,465.5 241.4,463.9 241.9,462.3C242.4,460.7 242.9,459.1 243.3,457.6C243.8,456.0 244.3,454.4 244.8,452.9C245.3,451.3 245.8,449.7 246.3,448.2C246.8,446.6 247.4,445.0 247.9,443.5C248.4,441.9 249.0,440.4 249.5,438.8C250.0,437.3 250.6,435.8 251.2,434.2C251.7,432.7 252.3,431.1 252.9,429.6C253.5,428.1 254.0,426.6 254.7,425.0C255.3,423.5 255.9,422.0 256.5,420.5C257.1,419.0 257.8,417.5 258.4,416.0C259.1,414.5 259.7,413.0 260.4,411.5C261.1,410.0 261.8,408.6 262.5,407.1C263.2,405.7 264.0,404.2 264.7,402.8C265.5,401.3 266.2,399.9 267.0,398.5C267.8,397.1 268.6,395.7 269.5,394.3C270.3,392.9 271.2,391.6 272.1,390.2C273.0,388.9 273.9,387.6 274.8,386.3C275.8,385.0 276.8,383.7 277.8,382.5C278.9,381.3 279.9,380.1 281.0,378.9C282.2,377.8 283.3,376.7 284.6,375.7C285.8,374.7 287.1,373.7 288.4,372.9C289.7,372.0 291.1,371.2 292.6,370.6C294.1,370.0 295.6,369.4 297.2,369.1C298.7,368.7 300.4,368.5 302.0,368.5C303.7,368.5 305.4,368.7 307.0,369.0C308.7,369.3 310.4,369.9 311.9,370.5C313.5,371.1 315.1,371.9 316.6,372.8C318.1,373.6 319.5,374.6 320.9,375.6C322.3,376.6 323.7,377.7 325.0,378.8C326.3,379.9 327.6,381.0 328.8,382.2C330.0,383.4 331.2,384.6 332.4,385.8C333.6,387.1 334.7,388.3 335.9,389.6C337.0,390.9 338.1,392.2 339.2,393.5C340.3,394.8 341.3,396.1 342.4,397.4C343.4,398.7 344.5,400.0 345.5,401.4C346.5,402.7 347.5,404.1 348.5,405.4C349.5,406.7 350.5,408.1 351.5,409.4C352.5,410.8 353.5,412.1 354.5,413.5C355.5,414.8 356.5,416.2 357.5,417.5C358.4,418.9 359.4,420.2 360.4,421.5C361.4,422.9 362.4,424.2 363.4,425.6C364.3,426.9 365.3,428.3 366.3,429.6C367.3,431.0 368.3,432.3 369.3,433.7C370.2,435.0 371.2,436.3 372.2,437.7C373.2,439.0 374.2,440.4 375.2,441.7C376.1,443.1 377.1,444.4 378.1,445.8C379.1,447.1 380.1,448.4 381.1,449.8C382.1,451.1 383.0,452.5 384.0,453.8C385.0,455.2 386.0,456.5 387.0,457.9C388.0,459.2 389.0,460.5 389.9,461.9C390.9,463.2 391.9,464.6 392.9,465.9C393.9,467.3 394.9,468.6 395.9,470.0C396.8,471.3 397.8,472.6 398.8,474.0C399.8,475.3 400.8,476.7 401.8,478.0C402.7,479.4 403.7,480.7 404.7,482.1C405.7,483.4 406.7,484.8 407.6,486.1C408.6,487.5 409.6,488.9 410.6,490.2C411.5,491.6 412.5,492.9 413.5,494.3C414.4,495.6 415.4,497.0 416.4,498.4C417.4,499.7 418.3,501.1 419.3,502.4C420.2,503.8 421.2,505.2 422.2,506.5C423.1,507.9 424.1,509.3 425.1,510.6C426.0,512.0 427.0,513.4 427.9,514.7C428.9,516.1 429.8,517.5 430.8,518.9C431.7,520.2 432.7,521.6 433.6,523.0C434.6,524.3 435.5,525.7 436.5,527.1C437.4,528.5 438.4,529.8 439.3,531.2C440.3,532.6 441.2,533.9 442.2,535.3C443.1,536.7 444.1,538.0 445.0,539.4C446.0,540.8 446.9,542.1 447.9,543.5C448.8,544.8 449.8,546.2 450.7,547.6C451.7,548.9 452.7,550.3 453.6,551.6C454.6,553.0 455.6,554.3 456.5,555.7C457.5,557.0 458.5,558.5 459.5,559.7C460.4,561.0 461.6,562.6 462.0,563.2" stroke="#00F000"/>
<path class="c" d="M87.2,660.9L462.0,660.9" stroke="#FFC000" style="stroke-width:2.2"/>
</g>
<path d="M84.50,365.50H462.40V666.50" fill="none" stroke="#646464" stroke-width="1.5" stroke-linejoin="round"/>
<line x1="80.10" y1="666.50" x2="463.00" y2="666.50" stroke="#585858" stroke-width="1.30"/>
<line x1="84.50" y1="365.00" x2="84.50" y2="667.10" stroke="#303030" stroke-width="1.25"/>
<text x="71.8" y="671.0" font-size="15.2" text-anchor="end">0,0</text>
<line x1="80.0" y1="607.51" x2="84.5" y2="607.51" stroke="#505050" stroke-width="1.25"/>
<text x="71.8" y="612.0" font-size="15.2" text-anchor="end">0,2</text>
<line x1="80.0" y1="548.52" x2="84.5" y2="548.52" stroke="#505050" stroke-width="1.25"/>
<text x="71.8" y="553.0" font-size="15.2" text-anchor="end">0,4</text>
<line x1="80.0" y1="489.53" x2="84.5" y2="489.53" stroke="#505050" stroke-width="1.25"/>
<text x="71.8" y="494.0" font-size="15.2" text-anchor="end">0,6</text>
<line x1="80.0" y1="430.54" x2="84.5" y2="430.54" stroke="#505050" stroke-width="1.25"/>
<text x="71.8" y="435.0" font-size="15.2" text-anchor="end">0,8</text>
<line x1="80.0" y1="371.55" x2="84.5" y2="371.55" stroke="#505050" stroke-width="1.25"/>
<text x="71.8" y="376.1" font-size="15.2" text-anchor="end">1,0</text>
<text x="84.5" y="684.0" font-size="12.0" text-anchor="middle">0</text>
<text x="160.1" y="684.0" font-size="12.0" text-anchor="middle">25</text>
<text x="235.7" y="684.0" font-size="12.0" text-anchor="middle">50</text>
<text x="311.2" y="684.0" font-size="12.0" text-anchor="middle">75</text>
<text x="386.8" y="684.0" font-size="12.0" text-anchor="middle">100</text>
<text x="462.4" y="684.0" font-size="12.0" text-anchor="middle">125</text>
<text x="280.2" y="694.4" font-size="14.8" text-anchor="middle">Time (s)</text>
<text transform="translate(41.3,513.5) rotate(-90)" font-size="15" text-anchor="middle">Response (normalized)</text>
<rect x="96.7" y="376.4" width="72.1" height="27.9" fill="#fff" stroke="#1c1c1c" stroke-width="1.15"/>
<text class="s" x="132.6" y="397.0" font-size="18.5" text-anchor="middle">10.0 μm</text>
<text class="s" x="424.0" y="398.8" font-size="24">d.</text>
</g>
<g>
<line x1="532.9" y1="663.0" x2="912.9" y2="663.0" stroke="#d3d3d3" stroke-width="1.6"/>
<clipPath id="cpc"><rect x="532.9" y="365.3" width="380.6" height="300.6"/></clipPath>
<g clip-path="url(#cpc)">
<path class="c" d="M535.2,662.8C537.7,662.8 545.2,662.8 550.0,662.8C554.8,662.8 560.5,662.9 563.8,662.8C567.1,662.7 568.3,662.6 570.0,662.2C571.7,661.8 572.6,661.7 573.8,660.5C574.9,659.3 576.0,657.8 576.9,654.9C577.8,652.0 578.3,648.2 579.3,643.0C580.3,637.8 582.0,628.0 582.8,624.0C583.5,620.0 583.5,620.4 583.8,618.7C584.1,617.0 584.5,615.2 584.8,613.5C585.1,611.9 585.5,610.2 585.8,608.5C586.1,606.9 586.5,605.3 586.8,603.6C587.1,602.0 587.5,600.4 587.8,598.8C588.2,597.2 588.5,595.6 588.9,594.0C589.2,592.4 589.6,590.8 589.9,589.2C590.3,587.6 590.7,586.0 591.0,584.4C591.4,582.8 591.8,581.2 592.2,579.6C592.5,578.0 592.9,576.4 593.3,574.8C593.7,573.2 594.1,571.6 594.5,570.0C594.9,568.4 595.3,566.8 595.7,565.2C596.1,563.6 596.5,562.0 597.0,560.4C597.4,558.8 597.8,557.2 598.3,555.7C598.7,554.1 599.1,552.5 599.6,550.9C600.0,549.3 600.5,547.7 600.9,546.1C601.4,544.5 601.8,543.0 602.3,541.4C602.8,539.8 603.2,538.2 603.7,536.6C604.2,535.1 604.7,533.5 605.2,531.9C605.6,530.3 606.1,528.7 606.6,527.2C607.1,525.6 607.6,524.0 608.1,522.4C608.6,520.8 609.1,519.3 609.6,517.7C610.1,516.1 610.6,514.5 611.1,512.9C611.6,511.4 612.2,509.8 612.7,508.2C613.2,506.6 613.7,505.0 614.2,503.4C614.7,501.9 615.2,500.3 615.8,498.7C616.3,497.1 616.8,495.5 617.3,494.0C617.8,492.4 618.3,490.8 618.9,489.2C619.4,487.7 619.9,486.1 620.4,484.5C621.0,482.9 621.5,481.4 622.0,479.8C622.6,478.2 623.1,476.7 623.6,475.1C624.2,473.5 624.7,472.0 625.3,470.4C625.8,468.9 626.4,467.3 626.9,465.7C627.5,464.2 628.0,462.6 628.6,461.1C629.2,459.5 629.8,458.0 630.3,456.4C630.9,454.9 631.5,453.4 632.1,451.8C632.7,450.3 633.3,448.8 633.9,447.2C634.5,445.7 635.1,444.2 635.7,442.7C636.4,441.2 637.0,439.7 637.7,438.1C638.3,436.6 639.0,435.1 639.6,433.6C640.3,432.1 641.0,430.7 641.7,429.2C642.4,427.7 643.1,426.2 643.8,424.7C644.5,423.3 645.2,421.8 646.0,420.3C646.7,418.9 647.5,417.4 648.2,416.0C649.0,414.5 649.8,413.1 650.6,411.7C651.4,410.2 652.2,408.8 653.0,407.4C653.8,406.0 654.7,404.6 655.6,403.2C656.4,401.9 657.3,400.5 658.2,399.1C659.1,397.8 660.1,396.5 661.0,395.1C662.0,393.8 662.9,392.5 663.9,391.2C664.9,390.0 666.0,388.7 667.0,387.5C668.1,386.3 669.2,385.1 670.3,383.9C671.4,382.7 672.5,381.6 673.7,380.5C674.9,379.4 676.2,378.4 677.4,377.4C678.7,376.4 680.0,375.4 681.4,374.6C682.7,373.7 684.1,372.9 685.6,372.1C687.0,371.4 688.5,370.8 690.0,370.3C691.6,369.7 693.1,369.3 694.7,369.0C696.4,368.7 698.0,368.5 699.7,368.5C701.3,368.5 703.0,368.6 704.7,368.9C706.3,369.2 708.0,369.6 709.6,370.3C711.2,370.9 712.7,371.8 714.2,372.7C715.7,373.7 717.1,374.8 718.4,376.0C719.7,377.2 720.9,378.5 722.1,379.8C723.3,381.1 724.3,382.5 725.4,383.9C726.4,385.4 727.4,386.8 728.3,388.3C729.2,389.7 730.1,391.2 731.0,392.7C731.9,394.2 732.7,395.6 733.5,397.1C734.4,398.6 735.2,400.1 735.9,401.6C736.7,403.1 737.5,404.6 738.3,406.1C739.0,407.6 739.8,409.1 740.6,410.6C741.3,412.1 742.1,413.6 742.8,415.1C743.5,416.6 744.3,418.1 745.0,419.6C745.8,421.1 746.5,422.6 747.3,424.1C748.0,425.6 748.7,427.1 749.5,428.6C750.2,430.1 750.9,431.6 751.7,433.1C752.4,434.6 753.1,436.1 753.8,437.6C754.5,439.1 755.3,440.6 756.0,442.2C756.7,443.7 757.4,445.2 758.1,446.7C758.8,448.2 759.5,449.7 760.2,451.2C761.0,452.7 761.7,454.3 762.4,455.8C763.1,457.3 763.8,458.8 764.5,460.3C765.2,461.8 765.9,463.3 766.6,464.9C767.3,466.4 768.0,467.9 768.7,469.4C769.4,470.9 770.1,472.4 770.8,473.9C771.5,475.4 772.2,476.9 772.9,478.5C773.6,480.0 774.3,481.5 775.0,483.0C775.7,484.5 776.4,486.0 777.1,487.5C777.8,489.0 778.5,490.5 779.2,492.0C779.9,493.5 780.6,495.0 781.3,496.5C782.1,498.1 782.8,499.6 783.5,501.1C784.2,502.6 784.9,504.1 785.6,505.6C786.3,507.1 787.1,508.5 787.8,510.0C788.5,511.5 789.2,513.0 790.0,514.5C790.7,516.0 791.4,517.5 792.2,519.0C792.9,520.5 793.6,522.0 794.4,523.4C795.1,524.9 795.9,526.4 796.6,527.9C797.4,529.4 798.1,530.8 798.9,532.3C799.6,533.8 800.4,535.3 801.2,536.7C801.9,538.2 802.7,539.6 803.5,541.1C804.3,542.6 805.0,544.0 805.8,545.5C806.6,546.9 807.4,548.4 808.2,549.8C809.0,551.3 809.9,552.7 810.7,554.1C811.5,555.6 812.3,557.0 813.2,558.4C814.0,559.8 814.8,561.3 815.7,562.7C816.5,564.1 817.4,565.5 818.2,566.9C819.1,568.3 820.0,569.7 820.8,571.1C821.7,572.5 822.6,573.9 823.5,575.3C824.4,576.7 825.3,578.1 826.2,579.5C827.1,580.8 828.0,582.2 829.0,583.6C829.9,584.9 830.8,586.3 831.8,587.6C832.7,589.0 833.7,590.3 834.7,591.7C835.6,593.0 836.6,594.3 837.6,595.6C838.6,597.0 839.6,598.3 840.6,599.6C841.6,600.9 842.6,602.2 843.7,603.5C844.7,604.7 845.8,606.0 846.8,607.3C847.9,608.5 848.9,609.8 850.0,611.0C851.1,612.3 852.2,613.5 853.3,614.7C854.4,615.9 855.5,617.1 856.7,618.3C857.8,619.5 859.0,620.7 860.1,621.8C861.3,623.0 862.5,624.2 863.7,625.3C864.9,626.4 866.1,627.5 867.3,628.6C868.6,629.7 869.8,630.8 871.1,631.8C872.3,632.9 873.6,633.9 874.9,634.9C876.2,635.9 877.5,636.9 878.8,637.9C880.2,638.8 881.5,639.8 882.9,640.7C884.3,641.6 885.7,642.5 887.1,643.3C888.5,644.2 889.9,645.0 891.3,645.8C892.8,646.6 894.3,647.3 895.7,648.1C897.2,648.8 898.7,649.5 900.2,650.1C901.8,650.7 903.3,651.3 904.8,651.9C906.4,652.4 908.2,653.0 909.6,653.4C910.9,653.8 912.3,654.1 912.8,654.3" stroke="#00A8EC"/>
<path class="c" d="M535.2,662.8C538.5,662.8 548.7,662.8 555.0,662.8C561.3,662.8 569.2,662.9 573.0,662.8C576.8,662.7 576.2,662.7 577.5,662.2C578.8,661.7 579.8,661.6 580.8,660.0C581.8,658.4 582.4,656.2 583.3,652.6C584.2,649.0 585.3,643.9 586.4,638.3C587.5,632.7 589.2,623.2 590.0,619.2C590.8,615.2 590.7,615.9 591.0,614.2C591.3,612.6 591.7,611.0 592.0,609.4C592.3,607.7 592.7,606.1 593.0,604.5C593.4,602.9 593.7,601.3 594.1,599.7C594.4,598.1 594.8,596.5 595.1,594.9C595.5,593.2 595.8,591.6 596.2,590.0C596.6,588.4 596.9,586.8 597.3,585.2C597.7,583.6 598.1,582.0 598.5,580.4C598.8,578.8 599.2,577.2 599.6,575.6C600.0,574.0 600.4,572.4 600.8,570.8C601.2,569.2 601.6,567.6 602.0,566.0C602.4,564.4 602.8,562.8 603.2,561.2C603.7,559.6 604.1,558.0 604.5,556.4C604.9,554.8 605.4,553.2 605.8,551.6C606.2,550.0 606.7,548.4 607.1,546.8C607.5,545.2 608.0,543.7 608.4,542.1C608.9,540.5 609.3,538.9 609.8,537.3C610.2,535.7 610.7,534.1 611.2,532.5C611.6,530.9 612.1,529.3 612.6,527.8C613.0,526.2 613.5,524.6 614.0,523.0C614.4,521.4 614.9,519.8 615.4,518.2C615.9,516.6 616.3,515.0 616.8,513.4C617.3,511.9 617.8,510.3 618.3,508.7C618.8,507.1 619.3,505.5 619.7,503.9C620.2,502.3 620.7,500.7 621.2,499.1C621.7,497.5 622.2,496.0 622.7,494.4C623.2,492.8 623.7,491.2 624.2,489.6C624.6,488.0 625.1,486.5 625.7,484.9C626.2,483.3 626.7,481.7 627.2,480.2C627.7,478.6 628.2,477.0 628.7,475.4C629.2,473.9 629.7,472.3 630.3,470.7C630.8,469.2 631.3,467.6 631.9,466.1C632.4,464.5 633.0,463.0 633.5,461.4C634.1,459.9 634.6,458.3 635.2,456.8C635.8,455.3 636.3,453.7 636.9,452.2C637.5,450.7 638.1,449.1 638.7,447.6C639.3,446.1 639.9,444.6 640.6,443.1C641.2,441.6 641.9,440.1 642.6,438.6C643.2,437.2 643.9,435.7 644.6,434.2C645.3,432.7 646.0,431.3 646.8,429.8C647.5,428.4 648.2,426.9 649.0,425.5C649.8,424.0 650.5,422.6 651.3,421.2C652.1,419.7 653.0,418.3 653.8,416.9C654.6,415.5 655.4,414.1 656.3,412.7C657.1,411.3 658.0,409.9 658.9,408.5C659.8,407.1 660.7,405.7 661.6,404.3C662.5,403.0 663.4,401.6 664.3,400.3C665.3,399.0 666.2,397.6 667.2,396.3C668.2,395.0 669.2,393.7 670.2,392.4C671.2,391.2 672.2,389.9 673.3,388.7C674.4,387.4 675.4,386.2 676.6,385.1C677.7,383.9 678.8,382.7 680.0,381.6C681.2,380.5 682.4,379.4 683.6,378.4C684.9,377.4 686.2,376.4 687.5,375.4C688.8,374.5 690.2,373.6 691.6,372.9C693.0,372.1 694.4,371.4 695.9,370.8C697.4,370.2 699.0,369.7 700.6,369.3C702.2,368.9 703.8,368.7 705.5,368.6C707.1,368.6 708.8,368.6 710.5,368.9C712.1,369.2 713.8,369.7 715.4,370.3C717.0,370.9 718.6,371.8 720.0,372.7C721.5,373.7 722.9,374.8 724.2,376.0C725.5,377.1 726.8,378.4 727.9,379.7C729.1,381.0 730.2,382.4 731.3,383.8C732.3,385.2 733.3,386.7 734.2,388.1C735.2,389.5 736.1,391.0 737.0,392.5C737.9,393.9 738.7,395.4 739.6,396.9C740.4,398.4 741.2,399.9 742.0,401.4C742.8,402.9 743.6,404.4 744.4,405.9C745.2,407.4 745.9,408.9 746.7,410.4C747.4,411.9 748.2,413.4 748.9,414.9C749.6,416.4 750.4,418.0 751.1,419.5C751.8,421.0 752.5,422.5 753.2,424.0C754.0,425.5 754.7,427.0 755.4,428.5C756.1,430.0 756.8,431.5 757.5,433.1C758.2,434.6 759.0,436.1 759.7,437.6C760.4,439.1 761.1,440.6 761.8,442.1C762.5,443.6 763.2,445.1 764.0,446.6C764.7,448.1 765.4,449.6 766.1,451.1C766.8,452.7 767.5,454.2 768.2,455.7C768.9,457.2 769.6,458.7 770.3,460.2C771.0,461.8 771.7,463.3 772.4,464.8C773.1,466.3 773.8,467.8 774.5,469.3C775.2,470.9 775.9,472.4 776.6,473.9C777.3,475.4 778.0,476.9 778.7,478.4C779.4,480.0 780.0,481.5 780.7,483.0C781.4,484.5 782.1,486.0 782.8,487.5C783.5,489.0 784.2,490.5 784.9,492.0C785.6,493.5 786.3,495.0 787.0,496.5C787.7,498.0 788.4,499.5 789.2,501.0C789.9,502.5 790.6,504.0 791.3,505.5C792.0,507.0 792.8,508.5 793.5,510.0C794.2,511.4 795.0,512.9 795.7,514.4C796.5,515.9 797.2,517.3 798.0,518.8C798.7,520.3 799.5,521.7 800.3,523.2C801.1,524.7 801.8,526.1 802.6,527.6C803.4,529.0 804.2,530.5 805.0,531.9C805.8,533.4 806.6,534.8 807.4,536.3C808.2,537.7 809.0,539.2 809.8,540.6C810.7,542.0 811.5,543.5 812.3,544.9C813.2,546.3 814.0,547.8 814.8,549.2C815.7,550.6 816.5,552.0 817.4,553.4C818.2,554.9 819.1,556.3 820.0,557.7C820.8,559.1 821.7,560.5 822.6,561.9C823.5,563.3 824.4,564.7 825.3,566.1C826.2,567.5 827.1,568.8 828.0,570.2C828.9,571.6 829.8,573.0 830.7,574.3C831.7,575.7 832.6,577.1 833.5,578.4C834.5,579.8 835.4,581.2 836.4,582.5C837.3,583.8 838.3,585.2 839.3,586.5C840.2,587.9 841.2,589.2 842.2,590.5C843.2,591.8 844.2,593.1 845.2,594.4C846.2,595.7 847.3,597.0 848.3,598.3C849.3,599.6 850.4,600.9 851.4,602.2C852.5,603.4 853.5,604.7 854.6,606.0C855.7,607.2 856.7,608.5 857.8,609.7C858.9,610.9 860.0,612.2 861.2,613.4C862.3,614.6 863.4,615.8 864.5,617.0C865.7,618.2 866.8,619.3 868.0,620.5C869.2,621.7 870.4,622.8 871.6,623.9C872.7,625.1 874.0,626.2 875.2,627.3C876.4,628.4 877.6,629.5 878.9,630.5C880.1,631.6 881.4,632.7 882.7,633.7C884.0,634.7 885.3,635.7 886.6,636.7C887.9,637.7 889.3,638.7 890.6,639.6C892.0,640.6 893.3,641.5 894.7,642.4C896.1,643.3 897.5,644.1 898.9,645.0C900.3,645.8 901.8,646.6 903.2,647.4C904.7,648.2 906.1,648.9 907.6,649.6C909.1,650.3 911.3,651.2 912.1,651.6C913.0,652.0 912.7,651.9 912.8,651.9" stroke="#FF2C94"/>
<path class="c" d="M535.2,662.8C538.5,662.8 549.5,662.7 555.0,662.6C560.5,662.5 564.3,662.8 568.5,662.1C572.7,661.4 576.8,660.3 580.4,658.5C584.0,656.7 587.2,654.0 590.0,651.4C592.8,648.8 595.1,646.0 597.1,643.0C599.1,640.0 600.3,637.5 601.9,633.5C603.5,629.5 605.7,622.4 606.7,619.2C607.7,616.0 607.4,616.0 607.8,614.3C608.2,612.7 608.5,611.1 608.9,609.5C609.3,607.9 609.7,606.3 610.1,604.7C610.4,603.0 610.8,601.4 611.2,599.8C611.6,598.2 612.0,596.6 612.3,595.0C612.7,593.4 613.1,591.7 613.5,590.1C613.9,588.5 614.3,586.9 614.7,585.3C615.1,583.7 615.5,582.1 615.9,580.5C616.3,578.9 616.7,577.2 617.1,575.6C617.5,574.0 617.9,572.4 618.3,570.8C618.7,569.2 619.1,567.6 619.5,566.0C619.9,564.4 620.3,562.8 620.7,561.2C621.1,559.6 621.6,558.0 622.0,556.4C622.4,554.8 622.8,553.2 623.2,551.6C623.7,550.0 624.1,548.4 624.5,546.8C625.0,545.2 625.4,543.6 625.8,542.0C626.3,540.4 626.7,538.8 627.1,537.2C627.6,535.6 628.0,534.0 628.5,532.4C628.9,530.8 629.4,529.2 629.8,527.6C630.3,526.0 630.7,524.4 631.2,522.8C631.7,521.3 632.1,519.7 632.6,518.1C633.0,516.5 633.5,514.9 634.0,513.3C634.5,511.7 634.9,510.2 635.4,508.6C635.9,507.0 636.4,505.4 636.9,503.8C637.4,502.3 637.9,500.7 638.4,499.1C638.9,497.5 639.4,495.9 639.9,494.4C640.4,492.8 640.9,491.2 641.4,489.7C641.9,488.1 642.4,486.5 642.9,485.0C643.5,483.4 644.0,481.8 644.5,480.3C645.1,478.7 645.6,477.1 646.1,475.6C646.7,474.0 647.2,472.5 647.8,470.9C648.3,469.4 648.9,467.8 649.5,466.3C650.0,464.7 650.6,463.2 651.2,461.6C651.8,460.1 652.4,458.5 652.9,457.0C653.5,455.5 654.1,453.9 654.7,452.4C655.3,450.9 656.0,449.3 656.6,447.8C657.2,446.3 657.8,444.8 658.5,443.3C659.1,441.7 659.8,440.2 660.4,438.7C661.1,437.2 661.7,435.7 662.4,434.2C663.1,432.7 663.8,431.2 664.5,429.7C665.1,428.3 665.8,426.8 666.6,425.3C667.3,423.8 668.0,422.4 668.7,420.9C669.5,419.4 670.2,418.0 671.0,416.5C671.8,415.1 672.6,413.6 673.3,412.2C674.1,410.8 675.0,409.4 675.8,408.0C676.6,406.6 677.4,405.2 678.3,403.8C679.2,402.4 680.1,401.0 681.0,399.7C681.9,398.3 682.8,397.0 683.7,395.6C684.7,394.3 685.6,393.0 686.6,391.7C687.6,390.4 688.6,389.2 689.7,387.9C690.7,386.7 691.8,385.5 692.9,384.3C694.0,383.1 695.2,382.0 696.3,380.9C697.5,379.8 698.7,378.7 700.0,377.7C701.2,376.7 702.5,375.7 703.9,374.8C705.2,374.0 706.6,373.1 708.0,372.4C709.5,371.6 711.0,371.0 712.5,370.4C714.0,369.9 715.6,369.4 717.2,369.1C718.8,368.8 720.4,368.6 722.1,368.6C723.7,368.6 725.4,368.8 727.1,369.1C728.7,369.4 730.4,369.9 732.0,370.5C733.6,371.1 735.2,371.8 736.7,372.7C738.2,373.5 739.6,374.5 741.0,375.6C742.4,376.6 743.7,377.7 745.0,378.9C746.3,380.0 747.5,381.2 748.7,382.5C749.9,383.7 751.1,385.0 752.2,386.3C753.3,387.5 754.4,388.9 755.5,390.2C756.6,391.5 757.6,392.8 758.6,394.2C759.7,395.6 760.7,396.9 761.7,398.3C762.7,399.7 763.6,401.1 764.6,402.5C765.5,403.8 766.5,405.2 767.4,406.6C768.3,408.1 769.3,409.5 770.2,410.9C771.1,412.3 772.0,413.7 772.9,415.1C773.8,416.6 774.7,418.0 775.5,419.4C776.4,420.8 777.3,422.3 778.2,423.7C779.0,425.1 779.9,426.6 780.8,428.0C781.6,429.5 782.5,430.9 783.3,432.3C784.2,433.8 785.0,435.2 785.9,436.6C786.7,438.1 787.6,439.5 788.4,441.0C789.3,442.4 790.1,443.8 790.9,445.3C791.8,446.7 792.6,448.2 793.5,449.6C794.3,451.1 795.1,452.5 796.0,453.9C796.8,455.4 797.6,456.8 798.5,458.3C799.3,459.7 800.2,461.1 801.0,462.6C801.8,464.0 802.7,465.4 803.5,466.9C804.4,468.3 805.2,469.8 806.0,471.2C806.9,472.6 807.7,474.1 808.6,475.5C809.4,476.9 810.3,478.3 811.1,479.8C812.0,481.2 812.8,482.6 813.7,484.1C814.5,485.5 815.4,486.9 816.3,488.3C817.1,489.8 818.0,491.2 818.8,492.6C819.7,494.0 820.6,495.4 821.4,496.8C822.3,498.3 823.2,499.7 824.1,501.1C824.9,502.5 825.8,503.9 826.7,505.3C827.6,506.7 828.5,508.1 829.4,509.5C830.3,510.9 831.2,512.3 832.1,513.7C833.0,515.1 833.9,516.5 834.8,517.8C835.7,519.2 836.6,520.6 837.5,522.0C838.4,523.4 839.4,524.8 840.3,526.1C841.2,527.5 842.2,528.9 843.1,530.2C844.0,531.6 845.0,532.9 845.9,534.3C846.9,535.7 847.9,537.0 848.8,538.3C849.8,539.7 850.8,541.0 851.7,542.4C852.7,543.7 853.7,545.0 854.7,546.3C855.7,547.7 856.7,549.0 857.7,550.3C858.7,551.6 859.7,552.9 860.8,554.2C861.8,555.5 862.8,556.8 863.9,558.1C864.9,559.3 866.0,560.6 867.0,561.9C868.1,563.1 869.2,564.4 870.3,565.6C871.4,566.9 872.5,568.1 873.6,569.3C874.7,570.5 875.8,571.7 876.9,572.9C878.1,574.2 879.2,575.3 880.3,576.5C881.5,577.7 882.7,578.9 883.8,580.1C885.0,581.3 886.2,582.4 887.3,583.6C888.5,584.7 889.7,585.9 890.9,587.0C892.1,588.2 893.3,589.3 894.5,590.5C895.7,591.6 897.0,592.7 898.2,593.9C899.4,595.0 900.6,596.1 901.8,597.2C903.1,598.4 904.3,599.5 905.5,600.6C906.8,601.7 908.0,602.9 909.2,604.0C910.4,605.1 912.2,606.7 912.8,607.3" stroke="#00F000"/>
<path class="c" d="M535.2,662.8C538.8,662.8 552.1,662.7 556.6,662.6C561.1,662.5 560.4,662.3 562.0,662.0C563.6,661.7 564.9,661.4 566.1,660.9C567.4,660.4 568.3,659.6 569.5,659.0C570.7,658.4 572.2,657.7 573.3,657.3C574.4,656.9 575.1,657.0 576.0,656.6C576.9,656.2 577.4,655.2 578.5,654.6C579.6,654.0 581.5,653.6 582.8,653.3C584.0,653.0 584.8,652.9 586.0,652.6C587.2,652.3 588.7,651.8 590.0,651.4C591.3,651.0 592.4,650.4 594.0,650.0C595.6,649.6 598.0,649.2 599.5,649.0C601.0,648.8 601.8,648.8 603.0,648.6C604.2,648.4 605.6,647.8 607.0,647.6C608.4,647.4 610.1,647.3 611.4,647.3C612.7,647.3 613.7,647.5 615.0,647.4C616.3,647.3 617.6,646.6 619.0,646.5C620.4,646.4 622.1,646.6 623.4,646.6C624.7,646.6 625.7,646.5 627.0,646.3C628.3,646.1 629.6,645.6 631.0,645.5C632.4,645.4 634.0,645.5 635.3,645.4C636.6,645.3 637.7,645.0 639.0,644.9C640.3,644.8 641.6,644.8 643.0,644.6C644.4,644.4 645.7,644.1 647.2,643.7C648.7,643.3 650.4,642.8 652.0,642.3C653.6,641.8 655.1,641.3 656.7,640.6C658.3,639.9 659.9,639.0 661.5,638.0C663.1,637.0 664.7,636.0 666.3,634.7C667.9,633.4 669.4,631.9 671.0,630.3C672.6,628.7 674.2,627.0 675.8,625.1C677.4,623.2 678.9,621.2 680.5,619.0C682.1,616.8 683.7,614.6 685.3,612.0C686.9,609.4 688.5,606.5 690.1,603.5C691.7,600.5 693.3,597.4 694.9,594.2C696.5,591.0 698.0,587.9 699.6,584.5C701.2,581.1 702.8,577.6 704.4,573.9C706.0,570.1 707.5,566.0 709.1,562.0C710.7,558.0 712.3,554.0 713.9,550.1C715.5,546.2 717.1,542.5 718.7,538.5C720.3,534.5 721.8,530.4 723.5,526.2C725.2,522.0 727.0,517.7 728.8,513.5C730.6,509.3 732.1,506.1 734.2,501.2C736.3,496.3 738.6,490.5 741.2,484.4C743.8,478.2 746.8,470.7 749.6,464.3C752.4,457.9 754.6,453.1 758.0,445.8C761.4,438.5 767.4,425.7 769.8,420.5C772.1,415.3 770.0,418.5 772.1,414.7C774.2,410.9 779.1,402.8 782.6,397.9C786.1,393.0 789.6,388.7 793.1,385.2C796.6,381.7 800.6,378.9 803.6,376.8C806.6,374.7 809.2,373.4 811.0,372.6C812.8,371.8 813.3,372.3 814.1,372.0C814.9,371.7 814.6,371.3 816.0,371.0C817.4,370.7 820.5,370.2 822.5,370.1C824.5,370.0 826.2,370.2 828.0,370.3C829.8,370.4 831.3,370.5 833.0,370.9C834.7,371.3 836.2,371.9 838.0,372.6C839.8,373.3 841.9,374.1 843.6,375.1C845.4,376.1 847.4,377.9 848.5,378.5C849.6,379.1 849.6,378.4 850.5,379.0C851.4,379.6 851.8,380.0 854.1,382.1C856.5,384.2 862.1,389.4 864.6,391.5C867.1,393.6 867.2,393.4 869.0,395.0C870.8,396.6 872.3,398.4 875.1,401.0C877.9,403.6 882.1,407.0 885.6,410.5C889.1,414.0 892.9,418.1 896.1,422.0C899.3,425.9 901.8,429.8 904.6,433.6C907.4,437.4 911.6,442.9 913.0,444.8" stroke="#FFC000"/>
</g>
<path d="M532.90,365.30H912.90V665.90" fill="none" stroke="#646464" stroke-width="1.5" stroke-linejoin="round"/>
<line x1="528.50" y1="665.90" x2="913.50" y2="665.90" stroke="#4c4c4c" stroke-width="1.90"/>
<line x1="532.90" y1="364.80" x2="532.90" y2="666.50" stroke="#303030" stroke-width="1.90"/>
<text x="519.9" y="670.4" font-size="15.2" text-anchor="end">0,0</text>
<line x1="528.4" y1="607.01" x2="532.9" y2="607.01" stroke="#505050" stroke-width="1.25"/>
<text x="519.9" y="611.5" font-size="15.2" text-anchor="end">0,2</text>
<line x1="528.4" y1="548.12" x2="532.9" y2="548.12" stroke="#505050" stroke-width="1.25"/>
<text x="519.9" y="552.6" font-size="15.2" text-anchor="end">0,4</text>
<line x1="528.4" y1="489.23" x2="532.9" y2="489.23" stroke="#505050" stroke-width="1.25"/>
<text x="519.9" y="493.7" font-size="15.2" text-anchor="end">0,6</text>
<line x1="528.4" y1="430.34" x2="532.9" y2="430.34" stroke="#505050" stroke-width="1.25"/>
<text x="519.9" y="434.8" font-size="15.2" text-anchor="end">0,8</text>
<line x1="528.4" y1="371.45" x2="532.9" y2="371.45" stroke="#505050" stroke-width="1.25"/>
<text x="519.9" y="375.9" font-size="15.2" text-anchor="end">1,0</text>
<text x="532.9" y="685.6" font-size="14.7" text-anchor="middle">0</text>
<text x="608.9" y="685.6" font-size="14.7" text-anchor="middle">25</text>
<text x="684.9" y="685.6" font-size="14.7" text-anchor="middle">50</text>
<text x="760.9" y="685.6" font-size="14.7" text-anchor="middle">75</text>
<text x="836.9" y="685.6" font-size="14.7" text-anchor="middle">100</text>
<text x="912.9" y="685.6" font-size="14.7" text-anchor="middle">125</text>
<text x="723.0" y="696.9" font-size="14.8" text-anchor="middle">Time (s)</text>
<text transform="translate(490.0,515.2) rotate(-90)" font-size="15" text-anchor="middle">Response (normalized)</text>
<rect x="546.2" y="376.1" width="72.4" height="28.2" fill="#fff" stroke="#1c1c1c" stroke-width="1.15"/>
<text class="s" x="582.2" y="396.7" font-size="18.5" text-anchor="middle">5.0 μm</text>
<text class="s" x="885.6" y="398.8" font-size="24">c.</text>
</g>
<line x1="171.9" y1="207.0" x2="188.3" y2="207.0" stroke="#00A8EC" stroke-width="1.7" stroke-dasharray="6 4.4"/>
<text x="193.2" y="211.2" font-size="13.45">Methanol (PMMA)</text>
<line x1="171.9" y1="234.7" x2="188.3" y2="234.7" stroke="#FF2C94" stroke-width="1.7" stroke-dasharray="6 4.4"/>
<text x="193.2" y="238.8" font-size="13.45">Ethanol (PMMA)</text>
<line x1="171.9" y1="262.6" x2="188.3" y2="262.6" stroke="#00F000" stroke-width="1.7" stroke-dasharray="6 4.4"/>
<text x="193.2" y="266.8" font-size="13.45">Ethyl Acetate (PMMA)</text>
<line x1="171.9" y1="289.9" x2="188.3" y2="289.9" stroke="#FFC000" stroke-width="1.7" stroke-dasharray="6 4.4"/>
<text x="193.2" y="294.5" font-size="13.45">Toluene (PMMA)</text>
<line x1="653.5" y1="208.2" x2="668.5" y2="208.2" stroke="#00A8EC" stroke-width="1.5"/>
<text x="670.5" y="212.2" font-size="13.5">Methanol (PDMS)</text>
<line x1="653.5" y1="235.8" x2="668.5" y2="235.8" stroke="#FF2C94" stroke-width="1.5"/>
<text x="670.5" y="239.6" font-size="13.5">Ethanol (PDMS)</text>
<line x1="653.5" y1="263.4" x2="668.5" y2="263.4" stroke="#00F000" stroke-width="1.5"/>
<text x="670.5" y="267.3" font-size="13.5">Eth. Acetate (PDMS)</text>
<line x1="653.5" y1="290.9" x2="668.5" y2="290.9" stroke="#FFC000" stroke-width="1.5"/>
<text x="670.5" y="294.6" font-size="13.5">Toluene (PDMS)</text>
</svg></body></html>
